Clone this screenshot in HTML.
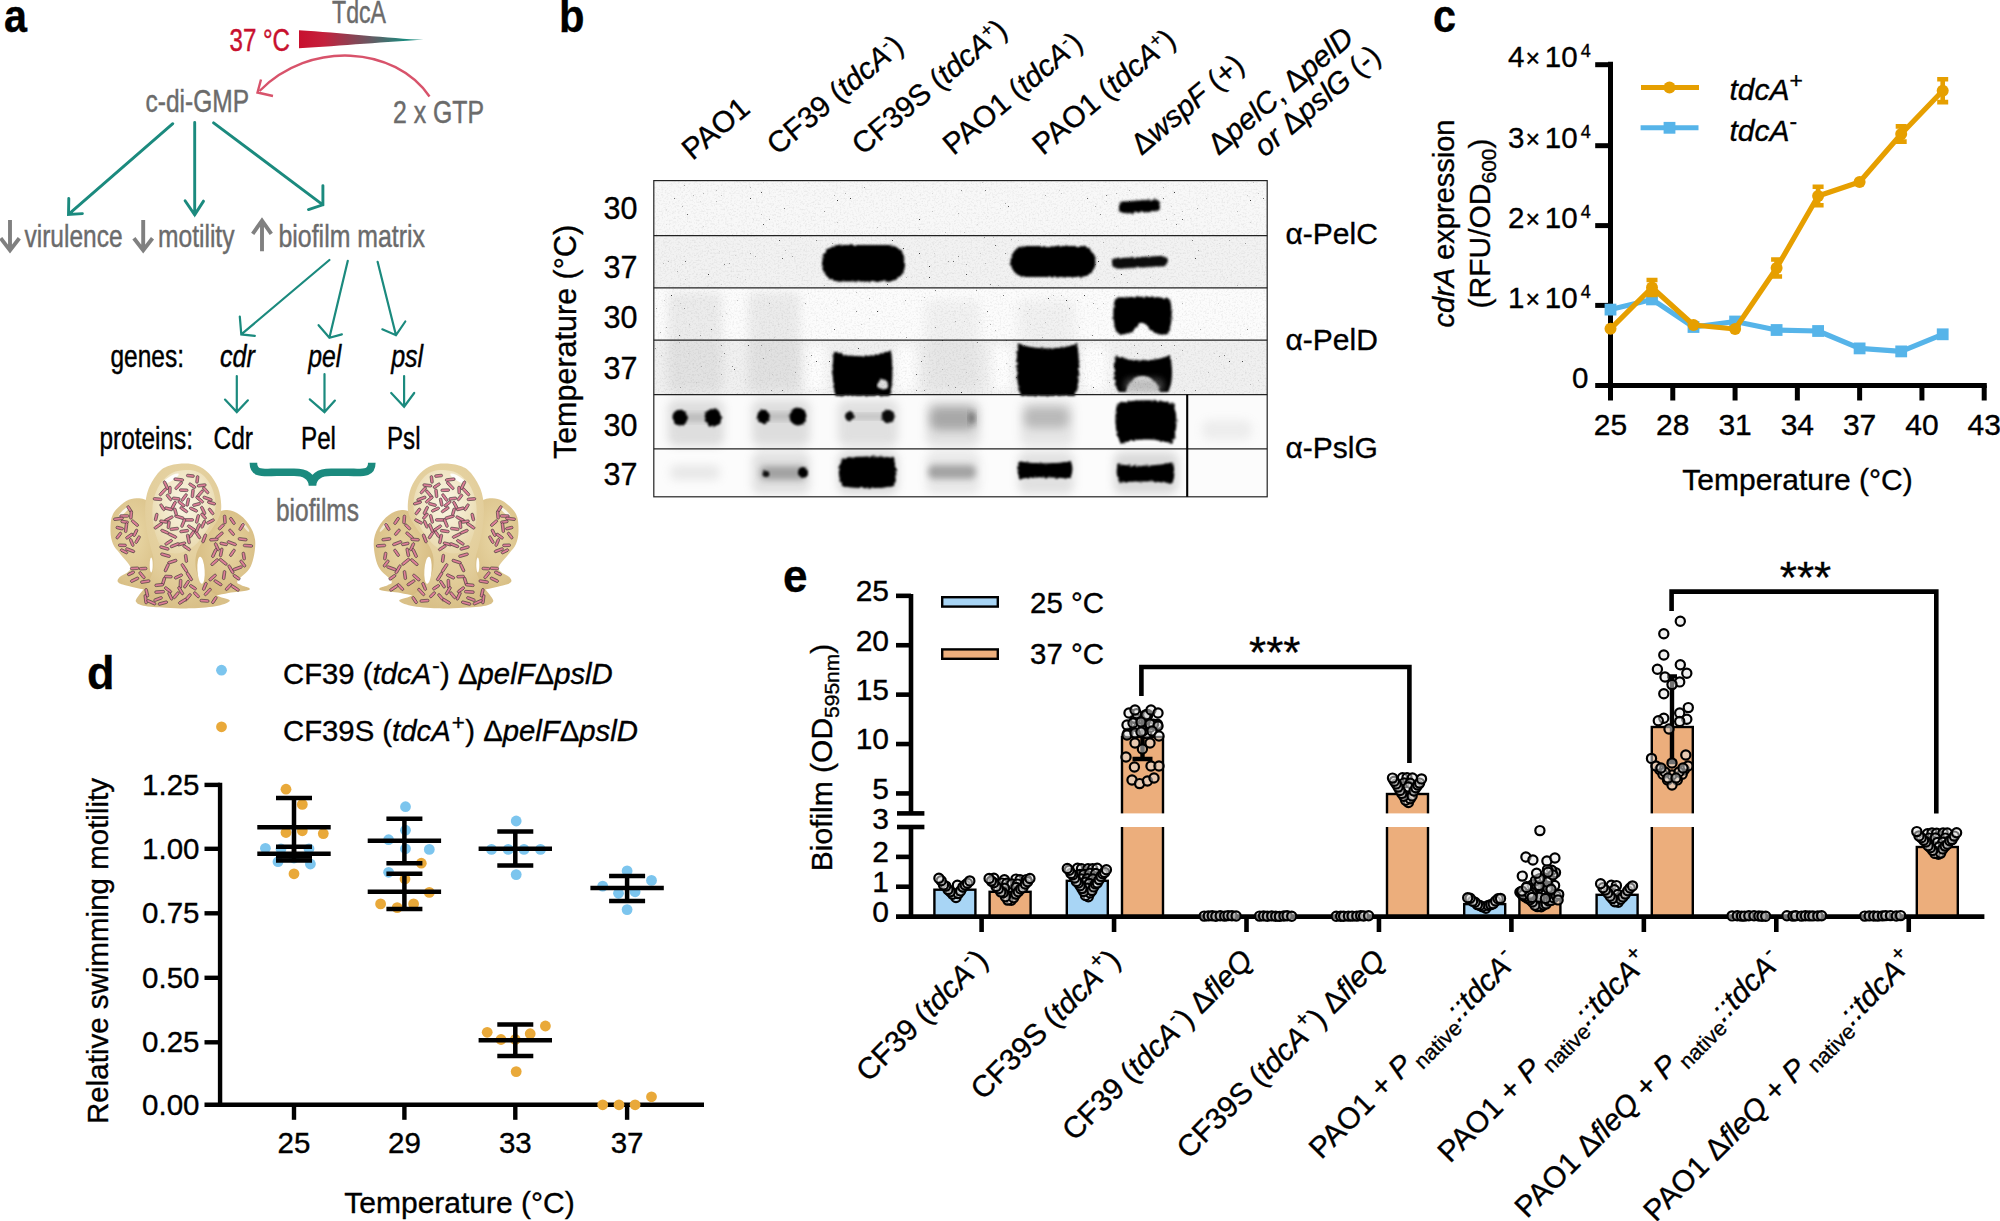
<!DOCTYPE html>
<html lang="en"><head><meta charset="utf-8"><title>Figure</title>
<style>html,body{margin:0;padding:0;background:#fff}svg{display:block}text{font-family:"Liberation Sans", Arial, Helvetica, sans-serif;}</style>
</head><body>
<svg width="2000" height="1221" viewBox="0 0 2000 1221">
<defs>
<linearGradient id="wedge" x1="0" x2="1" y1="0" y2="0"><stop offset="0" stop-color="#c8102e"/><stop offset="0.2" stop-color="#c4203c"/><stop offset="0.55" stop-color="#6d5560"/><stop offset="0.85" stop-color="#1b8a7e"/><stop offset="1" stop-color="#1b8a7e"/></linearGradient>
<radialGradient id="mg1" cx="0.5" cy="0.35" r="0.65"><stop offset="0" stop-color="#ead9ac"/><stop offset="0.7" stop-color="#e2cd9a"/><stop offset="1" stop-color="#d9c088"/></radialGradient>
<radialGradient id="mgi" cx="0.5" cy="0.4" r="0.6"><stop offset="0" stop-color="#fbf6e6"/><stop offset="0.6" stop-color="#f1e6c6"/><stop offset="1" stop-color="#e8d8ac"/></radialGradient>
<radialGradient id="mg2" cx="0.45" cy="0.4" r="0.7"><stop offset="0" stop-color="#e9d7a6"/><stop offset="0.7" stop-color="#dcc48c"/><stop offset="1" stop-color="#d2b679"/></radialGradient>
<radialGradient id="mg3" cx="0.55" cy="0.45" r="0.7"><stop offset="0" stop-color="#e8d5a3"/><stop offset="0.7" stop-color="#d9bf86"/><stop offset="1" stop-color="#cfb274"/></radialGradient>
<filter id="bl1" x="-20%" y="-40%" width="140%" height="180%"><feTurbulence type="fractalNoise" baseFrequency="0.35" numOctaves="2" seed="5" result="t"/><feDisplacementMap in="SourceGraphic" in2="t" scale="3.2" xChannelSelector="R" yChannelSelector="G" result="d"/><feGaussianBlur in="d" stdDeviation="1.1"/></filter>
<filter id="bl2" x="-20%" y="-40%" width="140%" height="180%"><feGaussianBlur stdDeviation="3"/></filter>
<filter id="bl4" x="-30%" y="-60%" width="160%" height="220%"><feGaussianBlur stdDeviation="5"/></filter>
<filter id="speck" x="0" y="0" width="100%" height="100%"><feTurbulence type="fractalNoise" baseFrequency="0.62" numOctaves="1" seed="3" result="n"/><feColorMatrix in="n" type="matrix" values="0 0 0 0 0  0 0 0 0 0  0 0 0 0 0  16 0 0 0 -12.1"/></filter>
<filter id="grain" x="0" y="0" width="100%" height="100%"><feTurbulence type="fractalNoise" baseFrequency="0.55" numOctaves="2" seed="11" result="n"/><feColorMatrix in="n" type="matrix" values="0 0 0 0 0  0 0 0 0 0  0 0 0 0 0  1.6 0 0 0 -0.72"/></filter>
<clipPath id="r0"><rect x="653.8" y="180.6" width="613.4" height="55"/></clipPath>
<clipPath id="blotclip"><rect x="653.8" y="180.6" width="613.4" height="316.2"/></clipPath>
<radialGradient id="dg" cx="0.4" cy="0.4" r="0.7"><stop offset="0" stop-color="#f2f2f2"/><stop offset="1" stop-color="#9a9a9a"/></radialGradient>
</defs>
<rect width="2000" height="1221" fill="#fff"/>
<g id="panelA">
<text x="4.00" y="32.00" font-size="46" font-weight="bold" textLength="23.00" lengthAdjust="spacingAndGlyphs" stroke="#000" stroke-width="0.35">a</text>
<text x="332.00" y="22.50" font-size="31.5" fill="#6b6b6b" textLength="54.00" lengthAdjust="spacingAndGlyphs" stroke="#6b6b6b" stroke-width="0.45">TdcA</text>
<text x="229.50" y="51.00" font-size="30.5" fill="#c8102e" textLength="60.50" lengthAdjust="spacingAndGlyphs" stroke="#c8102e" stroke-width="0.45">37 °C</text>
<path d="M299 30.2 L299 48.2 C340 46 390 41.5 423.5 39.8 C390 38.5 340 32.5 299 30.2Z" fill="url(#wedge)"/>
<path d="M429.5 96.5 C395 46 310 40 259.5 91" fill="none" stroke="#d8536b" stroke-width="2.4"/>
<path d="M261 79.5 L257.5 92.5 L273 96" fill="none" stroke="#d8536b" stroke-width="2.4"/>
<text x="145.50" y="112.00" font-size="31.5" fill="#6b6b6b" textLength="103.50" lengthAdjust="spacingAndGlyphs" stroke="#6b6b6b" stroke-width="0.45">c-di-GMP</text>
<text x="393.00" y="123.00" font-size="31.5" fill="#6b6b6b" textLength="91.00" lengthAdjust="spacingAndGlyphs" stroke="#6b6b6b" stroke-width="0.45">2 x GTP</text>
<path d="M172.8 123.7L68.5 214.4M68.8 198.4L68.5 214.4L82.4 213.6" fill="none" stroke="#1b8a7e" stroke-width="2.9" stroke-linecap="round" stroke-linejoin="miter"/>
<path d="M194.7 122.4L194.7 214.9M185.1 200.8L194.7 214.9L203.5 201.1" fill="none" stroke="#1b8a7e" stroke-width="2.9" stroke-linecap="round" stroke-linejoin="miter"/>
<path d="M213.6 122.9L322.9 204.8M322.9 185.6L322.9 204.8L308.5 209.6" fill="none" stroke="#1b8a7e" stroke-width="2.9" stroke-linecap="round" stroke-linejoin="miter"/>
<path d="M10 220V249.5M0.6999999999999993 238.2L10 250.4L19.3 238.2" fill="none" stroke="#808080" stroke-width="3.9" stroke-linejoin="miter"/>
<text x="24.50" y="246.50" font-size="31.5" fill="#6b6b6b" textLength="98.00" lengthAdjust="spacingAndGlyphs" stroke="#6b6b6b" stroke-width="0.45">virulence</text>
<path d="M143.2 220V249.5M133.89999999999998 238.2L143.2 250.4L152.5 238.2" fill="none" stroke="#808080" stroke-width="3.9" stroke-linejoin="miter"/>
<text x="158.00" y="246.50" font-size="31.5" fill="#6b6b6b" textLength="76.50" lengthAdjust="spacingAndGlyphs" stroke="#6b6b6b" stroke-width="0.45">motility</text>
<path d="M262 251.2V221.5M252.7 233.8L262 220.6L271.3 233.8" fill="none" stroke="#808080" stroke-width="3.9" stroke-linejoin="miter"/>
<text x="278.50" y="246.50" font-size="31.5" fill="#6b6b6b" textLength="146.50" lengthAdjust="spacingAndGlyphs" stroke="#6b6b6b" stroke-width="0.45">biofilm matrix</text>
<path d="M329.4 260.0L241.3 334.4M239.8 316.6L241.3 334.4L254.8 335.9" fill="none" stroke="#1b8a7e" stroke-width="2.2" stroke-linecap="round" stroke-linejoin="miter"/>
<path d="M347.8 260.8L329.4 337.7M318.6 325.2L329.4 337.7L341.9 334.4" fill="none" stroke="#1b8a7e" stroke-width="2.2" stroke-linecap="round" stroke-linejoin="miter"/>
<path d="M377.6 261.8L396.0 335.2M382.3 329.3L396.0 335.2L405.3 321.5" fill="none" stroke="#1b8a7e" stroke-width="2.2" stroke-linecap="round" stroke-linejoin="miter"/>
<text x="110.50" y="367.00" font-size="31.5" textLength="73.50" lengthAdjust="spacingAndGlyphs" stroke="#000" stroke-width="0.45">genes:</text>
<text x="219.90" y="367.00" font-size="31.5" font-style="italic" textLength="34.90" lengthAdjust="spacingAndGlyphs" stroke="#000" stroke-width="0.45">cdr</text>
<text x="308.30" y="367.00" font-size="31.5" font-style="italic" textLength="33.00" lengthAdjust="spacingAndGlyphs" stroke="#000" stroke-width="0.45">pel</text>
<text x="391.20" y="367.00" font-size="31.5" font-style="italic" textLength="32.00" lengthAdjust="spacingAndGlyphs" stroke="#000" stroke-width="0.45">psl</text>
<path d="M236.8 376.0L236.8 412.1M225.0 399.6L236.8 412.1L247.9 400.3" fill="none" stroke="#1b8a7e" stroke-width="2.2" stroke-linecap="round" stroke-linejoin="miter"/>
<path d="M324.5 374.2L324.5 412.1M309.8 399.3L324.5 412.1L334.9 400.6" fill="none" stroke="#1b8a7e" stroke-width="2.2" stroke-linecap="round" stroke-linejoin="miter"/>
<path d="M404.1 376.0L404.1 406.7M391.2 393.0L404.1 406.7L414.2 393.0" fill="none" stroke="#1b8a7e" stroke-width="2.2" stroke-linecap="round" stroke-linejoin="miter"/>
<text x="99.50" y="448.50" font-size="31.5" textLength="93.50" lengthAdjust="spacingAndGlyphs" stroke="#000" stroke-width="0.45">proteins:</text>
<text x="213.50" y="448.50" font-size="31.5" textLength="39.50" lengthAdjust="spacingAndGlyphs" stroke="#000" stroke-width="0.45">Cdr</text>
<text x="301.00" y="448.50" font-size="31.5" textLength="35.00" lengthAdjust="spacingAndGlyphs" stroke="#000" stroke-width="0.45">Pel</text>
<text x="387.00" y="448.50" font-size="31.5" textLength="33.50" lengthAdjust="spacingAndGlyphs" stroke="#000" stroke-width="0.45">Psl</text>
<path d="M253.4 462.8 C253.4 474.5 263 472.3 277 472.3 L294 472.3 C306 472.3 312 477 312.5 485.5 C313 477 319 472.3 331 472.3 L348 472.3 C362 472.3 371.8 474.5 371.8 462.8" fill="none" stroke="#1b8a7e" stroke-width="7.6" stroke-linejoin="miter" stroke-miterlimit="10"/>
<text x="276.00" y="520.50" font-size="31.5" fill="#6b6b6b" textLength="83.00" lengthAdjust="spacingAndGlyphs" stroke="#6b6b6b" stroke-width="0.45">biofilms</text>
<g id="mush">
<path d="M139.3 498.3C135.0 497.8 130.6 498.3 126.2 500.9C121.8 503.5 115.6 509.0 113.0 514.0C110.4 519.0 110.5 526.0 110.5 531.0C110.5 536.0 111.5 540.3 113.0 544.0C114.5 547.7 116.9 549.6 119.7 553.3C122.5 557.0 128.7 563.3 130.1 566.4C131.5 569.5 129.7 570.2 128.0 572.0C126.3 573.8 121.4 575.3 119.7 577.0C118.0 578.7 116.9 580.6 118.0 582.0C119.1 583.4 120.9 584.2 126.2 585.5C131.5 586.8 144.4 590.1 150.0 590.0C155.6 589.9 158.3 596.7 160.0 585.0C161.7 573.3 161.3 533.5 160.0 520.0C158.7 506.5 155.4 507.6 152.0 504.0C148.6 500.4 143.6 498.8 139.3 498.3Z" fill="url(#mg2)"/>
<path d="M225.8 510.0C231.1 509.5 235.8 512.0 240.0 515.0C244.2 518.0 248.4 523.2 251.0 528.0C253.6 532.8 255.4 537.6 255.3 544.0C255.2 550.4 253.6 560.3 250.7 566.4C247.8 572.5 239.2 577.7 237.6 580.8C236.0 583.9 239.0 583.8 241.0 585.0C243.0 586.2 248.4 587.3 249.4 588.2C250.4 589.1 250.1 589.8 247.0 590.5C243.9 591.2 238.0 591.5 231.0 592.6C224.0 593.7 210.8 597.4 205.0 597.0C199.2 596.6 197.5 599.5 196.0 590.0C194.5 580.5 194.0 552.0 196.0 540.0C198.0 528.0 203.0 523.0 208.0 518.0C213.0 513.0 220.5 510.5 225.8 510.0Z" fill="url(#mg3)"/>
<path d="M185.2 463.5C180.7 463.5 174.4 464.1 170.0 465.5C165.6 466.9 162.6 468.1 159.0 472.0C155.4 475.9 150.8 483.1 148.5 489.0C146.2 494.9 145.5 500.8 145.2 507.4C144.9 514.0 145.6 521.8 146.5 528.4C147.4 535.0 149.3 541.5 150.5 546.7C151.7 551.9 153.4 555.4 153.7 559.8C154.0 564.2 153.7 568.6 152.4 573.0C151.1 577.4 148.3 582.1 145.9 586.0C143.5 589.9 139.7 593.9 138.0 596.5C136.3 599.1 135.1 600.3 136.0 601.8C136.9 603.3 138.4 604.7 143.3 605.7C148.2 606.7 157.4 607.3 165.5 607.7C173.6 608.1 182.9 608.6 191.7 608.3C200.4 608.0 211.7 607.0 218.0 605.7C224.3 604.4 229.8 602.1 229.8 600.5C229.8 598.9 222.2 598.3 218.0 595.9C213.8 593.5 208.3 589.8 204.8 586.0C201.3 582.2 198.5 577.8 197.0 573.0C195.5 568.2 195.0 562.0 195.7 557.2C196.3 552.4 198.3 548.6 200.9 544.0C203.5 539.4 208.3 534.3 211.4 529.7C214.5 525.1 217.7 520.8 219.3 516.6C220.9 512.5 221.4 509.6 221.2 504.8C221.0 500.0 220.1 493.1 218.0 487.8C215.9 482.6 212.3 477.0 208.8 473.3C205.3 469.6 200.9 467.1 197.0 465.5C193.1 463.9 189.7 463.5 185.2 463.5Z" fill="url(#mg1)"/>
<path d="M186.0 470.0C182.2 470.3 176.3 470.7 172.0 473.0C167.7 475.3 163.1 479.5 160.0 484.0C156.9 488.5 154.8 494.5 153.5 500.0C152.2 505.5 152.2 511.7 152.5 517.0C152.8 522.3 153.8 527.3 155.0 532.0C156.2 536.7 158.0 541.7 160.0 545.0C162.0 548.3 163.7 550.7 167.0 552.0C170.3 553.3 175.5 554.0 180.0 553.0C184.5 552.0 189.8 549.3 194.0 546.0C198.2 542.7 201.8 537.7 205.0 533.0C208.2 528.3 211.2 523.0 213.0 518.0C214.8 513.0 215.7 508.0 215.5 503.0C215.3 498.0 213.9 492.5 212.0 488.0C210.1 483.5 206.8 478.8 204.0 476.0C201.2 473.2 198.0 472.0 195.0 471.0C192.0 470.0 189.8 469.7 186.0 470.0Z" fill="url(#mgi)"/>
<ellipse cx="201" cy="570.3" rx="3.6" ry="13.5" fill="#fff" transform="rotate(-4 201 570)"/>
<ellipse cx="151.2" cy="565" rx="1.5" ry="7.5" fill="#fff"/>
<ellipse cx="171" cy="478.5" rx="9" ry="2.4" fill="#fff" opacity="0.9" transform="rotate(-31 171 478.5)"/>
<ellipse cx="124" cy="511.5" rx="7" ry="1.6" fill="#fff" opacity="0.8" transform="rotate(-42 124 511.5)"/>
<ellipse cx="245.5" cy="527" rx="6" ry="1.4" fill="#fff" opacity="0.6" transform="rotate(52 245.5 527)"/>
<g fill="#dd7f98" stroke="#3a3032" stroke-width="0.7" stroke-opacity="0.85"><rect x="-4.3" y="-1.3" width="8.7" height="2.6" rx="1.3" transform="translate(181.6 543.9) rotate(166)"/><rect x="-4.4" y="-1.3" width="8.8" height="2.6" rx="1.3" transform="translate(186.7 547.8) rotate(33)"/><rect x="-4.3" y="-1.3" width="8.7" height="2.6" rx="1.3" transform="translate(157.5 499.1) rotate(5)"/><rect x="-4.6" y="-1.3" width="9.1" height="2.6" rx="1.3" transform="translate(180.5 583.8) rotate(93)"/><rect x="-4.1" y="-1.3" width="8.2" height="2.6" rx="1.3" transform="translate(186.0 558.4) rotate(82)"/><rect x="-3.8" y="-1.3" width="7.7" height="2.6" rx="1.3" transform="translate(169.0 497.4) rotate(52)"/><rect x="-4.2" y="-1.3" width="8.5" height="2.6" rx="1.3" transform="translate(210.5 521.5) rotate(152)"/><rect x="-4.2" y="-1.3" width="8.3" height="2.6" rx="1.3" transform="translate(211.6 503.0) rotate(16)"/><rect x="-4.7" y="-1.3" width="9.3" height="2.6" rx="1.3" transform="translate(191.5 528.1) rotate(34)"/><rect x="-4.2" y="-1.3" width="8.5" height="2.6" rx="1.3" transform="translate(168.0 589.8) rotate(38)"/><rect x="-3.8" y="-1.3" width="7.7" height="2.6" rx="1.3" transform="translate(211.1 511.4) rotate(53)"/><rect x="-4.4" y="-1.3" width="8.7" height="2.6" rx="1.3" transform="translate(174.2 528.9) rotate(173)"/><rect x="-3.9" y="-1.3" width="7.9" height="2.6" rx="1.3" transform="translate(192.9 587.2) rotate(33)"/><rect x="-4.9" y="-1.3" width="9.9" height="2.6" rx="1.3" transform="translate(163.0 491.8) rotate(133)"/><rect x="-4.5" y="-1.3" width="9.0" height="2.6" rx="1.3" transform="translate(158.1 599.0) rotate(159)"/><rect x="-5.0" y="-1.3" width="9.9" height="2.6" rx="1.3" transform="translate(178.8 479.6) rotate(7)"/><rect x="-4.1" y="-1.3" width="8.2" height="2.6" rx="1.3" transform="translate(163.6 581.1) rotate(107)"/><rect x="-4.0" y="-1.3" width="8.0" height="2.6" rx="1.3" transform="translate(196.5 504.5) rotate(165)"/><rect x="-3.9" y="-1.3" width="7.8" height="2.6" rx="1.3" transform="translate(156.2 517.0) rotate(103)"/><rect x="-4.5" y="-1.3" width="9.1" height="2.6" rx="1.3" transform="translate(204.5 600.8) rotate(4)"/><rect x="-5.0" y="-1.3" width="10.0" height="2.6" rx="1.3" transform="translate(184.4 568.0) rotate(57)"/><rect x="-4.6" y="-1.3" width="9.3" height="2.6" rx="1.3" transform="translate(207.8 591.9) rotate(133)"/><rect x="-4.8" y="-1.3" width="9.7" height="2.6" rx="1.3" transform="translate(172.4 561.6) rotate(162)"/><rect x="-4.5" y="-1.3" width="8.9" height="2.6" rx="1.3" transform="translate(178.4 576.5) rotate(155)"/><rect x="-4.5" y="-1.3" width="9.0" height="2.6" rx="1.3" transform="translate(197.5 518.9) rotate(105)"/><rect x="-4.4" y="-1.3" width="8.7" height="2.6" rx="1.3" transform="translate(184.2 497.5) rotate(126)"/><rect x="-3.8" y="-1.3" width="7.5" height="2.6" rx="1.3" transform="translate(196.5 594.8) rotate(46)"/><rect x="-4.6" y="-1.3" width="9.2" height="2.6" rx="1.3" transform="translate(180.7 590.7) rotate(59)"/><rect x="-4.9" y="-1.3" width="9.8" height="2.6" rx="1.3" transform="translate(158.3 525.8) rotate(145)"/><rect x="-4.4" y="-1.3" width="8.7" height="2.6" rx="1.3" transform="translate(193.6 509.6) rotate(25)"/><rect x="-4.3" y="-1.3" width="8.5" height="2.6" rx="1.3" transform="translate(181.5 503.8) rotate(39)"/><rect x="-4.8" y="-1.3" width="9.6" height="2.6" rx="1.3" transform="translate(197.6 534.6) rotate(57)"/><rect x="-3.9" y="-1.3" width="7.8" height="2.6" rx="1.3" transform="translate(168.4 576.6) rotate(3)"/><rect x="-4.6" y="-1.3" width="9.1" height="2.6" rx="1.3" transform="translate(197.9 528.0) rotate(113)"/><rect x="-4.0" y="-1.3" width="8.0" height="2.6" rx="1.3" transform="translate(214.3 600.1) rotate(123)"/><rect x="-4.3" y="-1.3" width="8.7" height="2.6" rx="1.3" transform="translate(183.7 490.2) rotate(2)"/><rect x="-4.2" y="-1.3" width="8.4" height="2.6" rx="1.3" transform="translate(205.7 490.3) rotate(49)"/><rect x="-4.7" y="-1.3" width="9.4" height="2.6" rx="1.3" transform="translate(204.2 538.4) rotate(111)"/><rect x="-4.7" y="-1.3" width="9.5" height="2.6" rx="1.3" transform="translate(174.7 545.2) rotate(158)"/><rect x="-4.8" y="-1.3" width="9.5" height="2.6" rx="1.3" transform="translate(199.9 493.9) rotate(130)"/><rect x="-5.0" y="-1.3" width="9.9" height="2.6" rx="1.3" transform="translate(159.6 591.9) rotate(176)"/><rect x="-4.9" y="-1.3" width="9.8" height="2.6" rx="1.3" transform="translate(189.4 576.5) rotate(58)"/><rect x="-4.4" y="-1.3" width="8.8" height="2.6" rx="1.3" transform="translate(166.7 567.8) rotate(115)"/><rect x="-4.9" y="-1.3" width="9.8" height="2.6" rx="1.3" transform="translate(168.7 518.8) rotate(152)"/><rect x="-4.4" y="-1.3" width="8.8" height="2.6" rx="1.3" transform="translate(159.2 585.0) rotate(174)"/><rect x="-4.4" y="-1.3" width="8.8" height="2.6" rx="1.3" transform="translate(192.7 493.3) rotate(96)"/><rect x="-3.8" y="-1.3" width="7.7" height="2.6" rx="1.3" transform="translate(191.8 534.2) rotate(124)"/><rect x="-4.3" y="-1.3" width="8.6" height="2.6" rx="1.3" transform="translate(164.8 531.7) rotate(23)"/><rect x="-4.5" y="-1.3" width="9.0" height="2.6" rx="1.3" transform="translate(183.8 509.7) rotate(34)"/><rect x="-4.5" y="-1.3" width="9.0" height="2.6" rx="1.3" transform="translate(203.2 510.4) rotate(64)"/><rect x="-4.0" y="-1.3" width="8.0" height="2.6" rx="1.3" transform="translate(192.3 485.7) rotate(33)"/><rect x="-4.7" y="-1.3" width="9.4" height="2.6" rx="1.3" transform="translate(145.7 599.2) rotate(83)"/><rect x="-4.3" y="-1.3" width="8.5" height="2.6" rx="1.3" transform="translate(204.8 586.4) rotate(113)"/><rect x="-4.6" y="-1.3" width="9.1" height="2.6" rx="1.3" transform="translate(189.0 519.9) rotate(180)"/><rect x="-4.0" y="-1.3" width="8.0" height="2.6" rx="1.3" transform="translate(163.6 521.6) rotate(9)"/><rect x="-4.5" y="-1.3" width="8.9" height="2.6" rx="1.3" transform="translate(173.6 505.3) rotate(118)"/><rect x="-4.3" y="-1.3" width="8.7" height="2.6" rx="1.3" transform="translate(146.8 592.7) rotate(77)"/><rect x="-4.3" y="-1.3" width="8.7" height="2.6" rx="1.3" transform="translate(188.1 597.2) rotate(130)"/><rect x="-4.9" y="-1.3" width="9.7" height="2.6" rx="1.3" transform="translate(207.6 498.6) rotate(20)"/><rect x="-4.8" y="-1.3" width="9.7" height="2.6" rx="1.3" transform="translate(162.9 603.1) rotate(165)"/><rect x="-3.8" y="-1.3" width="7.7" height="2.6" rx="1.3" transform="translate(197.3 479.4) rotate(97)"/><rect x="-4.8" y="-1.3" width="9.7" height="2.6" rx="1.3" transform="translate(179.3 517.1) rotate(17)"/><rect x="-4.7" y="-1.3" width="9.3" height="2.6" rx="1.3" transform="translate(166.0 485.2) rotate(64)"/><rect x="-4.7" y="-1.3" width="9.4" height="2.6" rx="1.3" transform="translate(199.7 499.6) rotate(40)"/><rect x="-5.0" y="-1.3" width="10.0" height="2.6" rx="1.3" transform="translate(178.7 485.6) rotate(133)"/><rect x="-4.3" y="-1.3" width="8.7" height="2.6" rx="1.3" transform="translate(168.7 542.3) rotate(147)"/><rect x="-4.5" y="-1.3" width="9.0" height="2.6" rx="1.3" transform="translate(184.2 531.1) rotate(172)"/><rect x="-4.1" y="-1.3" width="8.3" height="2.6" rx="1.3" transform="translate(168.6 508.8) rotate(14)"/><rect x="-4.6" y="-1.3" width="9.1" height="2.6" rx="1.3" transform="translate(182.5 601.3) rotate(149)"/><rect x="-3.8" y="-1.3" width="7.5" height="2.6" rx="1.3" transform="translate(175.5 511.7) rotate(74)"/><rect x="-4.6" y="-1.3" width="9.3" height="2.6" rx="1.3" transform="translate(172.4 535.6) rotate(26)"/><rect x="-4.3" y="-1.3" width="8.7" height="2.6" rx="1.3" transform="translate(170.3 596.0) rotate(65)"/><rect x="-4.9" y="-1.3" width="9.8" height="2.6" rx="1.3" transform="translate(151.4 602.3) rotate(24)"/><rect x="-4.0" y="-1.3" width="8.0" height="2.6" rx="1.3" transform="translate(190.4 475.8) rotate(6)"/><rect x="-4.2" y="-1.3" width="8.3" height="2.6" rx="1.3" transform="translate(187.8 502.2) rotate(102)"/><rect x="-4.5" y="-1.3" width="9.0" height="2.6" rx="1.3" transform="translate(201.7 485.4) rotate(173)"/><rect x="-4.6" y="-1.3" width="9.2" height="2.6" rx="1.3" transform="translate(183.2 523.0) rotate(112)"/><rect x="-4.9" y="-1.3" width="9.8" height="2.6" rx="1.3" transform="translate(188.4 539.0) rotate(78)"/><rect x="-3.8" y="-1.3" width="7.7" height="2.6" rx="1.3" transform="translate(162.4 507.2) rotate(58)"/><rect x="-5.0" y="-1.3" width="10.0" height="2.6" rx="1.3" transform="translate(165.5 555.2) rotate(16)"/><rect x="-4.4" y="-1.3" width="8.8" height="2.6" rx="1.3" transform="translate(186.5 584.2) rotate(123)"/><rect x="-4.8" y="-1.3" width="9.6" height="2.6" rx="1.3" transform="translate(164.4 548.0) rotate(16)"/><rect x="-3.8" y="-1.3" width="7.5" height="2.6" rx="1.3" transform="translate(203.6 516.2) rotate(49)"/><rect x="-4.1" y="-1.3" width="8.2" height="2.6" rx="1.3" transform="translate(176.2 595.2) rotate(129)"/><rect x="-3.9" y="-1.3" width="7.9" height="2.6" rx="1.3" transform="translate(176.2 498.6) rotate(7)"/><rect x="-3.9" y="-1.3" width="7.8" height="2.6" rx="1.3" transform="translate(168.7 524.8) rotate(98)"/><rect x="-3.9" y="-1.3" width="7.8" height="2.6" rx="1.3" transform="translate(169.9 490.1) rotate(92)"/><rect x="-4.2" y="-1.3" width="8.5" height="2.6" rx="1.3" transform="translate(203.3 524.1) rotate(114)"/><rect x="-4.1" y="-1.3" width="8.3" height="2.6" rx="1.3" transform="translate(131.7 542.4) rotate(67)"/><rect x="-4.2" y="-1.3" width="8.5" height="2.6" rx="1.3" transform="translate(142.0 575.2) rotate(51)"/><rect x="-4.2" y="-1.3" width="8.5" height="2.6" rx="1.3" transform="translate(134.7 568.4) rotate(177)"/><rect x="-3.8" y="-1.3" width="7.5" height="2.6" rx="1.3" transform="translate(129.5 509.1) rotate(58)"/><rect x="-4.4" y="-1.3" width="8.7" height="2.6" rx="1.3" transform="translate(135.0 523.2) rotate(41)"/><rect x="-3.8" y="-1.3" width="7.7" height="2.6" rx="1.3" transform="translate(124.6 521.9) rotate(9)"/><rect x="-4.2" y="-1.3" width="8.5" height="2.6" rx="1.3" transform="translate(129.4 536.1) rotate(145)"/><rect x="-4.0" y="-1.3" width="8.0" height="2.6" rx="1.3" transform="translate(122.4 545.3) rotate(2)"/><rect x="-3.9" y="-1.3" width="7.8" height="2.6" rx="1.3" transform="translate(143.1 568.6) rotate(177)"/><rect x="-4.9" y="-1.3" width="9.9" height="2.6" rx="1.3" transform="translate(126.1 527.6) rotate(97)"/><rect x="-4.0" y="-1.3" width="7.9" height="2.6" rx="1.3" transform="translate(118.8 535.6) rotate(127)"/><rect x="-4.0" y="-1.3" width="8.0" height="2.6" rx="1.3" transform="translate(135.4 532.8) rotate(116)"/><rect x="-4.5" y="-1.3" width="9.1" height="2.6" rx="1.3" transform="translate(134.7 579.7) rotate(154)"/><rect x="-4.8" y="-1.3" width="9.6" height="2.6" rx="1.3" transform="translate(130.2 550.2) rotate(21)"/><rect x="-4.3" y="-1.3" width="8.5" height="2.6" rx="1.3" transform="translate(137.6 539.7) rotate(120)"/><rect x="-4.6" y="-1.3" width="9.2" height="2.6" rx="1.3" transform="translate(124.3 516.0) rotate(179)"/><rect x="-4.2" y="-1.3" width="8.4" height="2.6" rx="1.3" transform="translate(131.1 515.0) rotate(95)"/><rect x="-3.8" y="-1.3" width="7.6" height="2.6" rx="1.3" transform="translate(119.7 528.1) rotate(13)"/><rect x="-3.8" y="-1.3" width="7.6" height="2.6" rx="1.3" transform="translate(131.0 573.4) rotate(154)"/><rect x="-4.9" y="-1.3" width="9.9" height="2.6" rx="1.3" transform="translate(118.5 518.8) rotate(173)"/><rect x="-4.1" y="-1.3" width="8.1" height="2.6" rx="1.3" transform="translate(124.1 551.4) rotate(27)"/><rect x="-4.8" y="-1.3" width="9.6" height="2.6" rx="1.3" transform="translate(145.3 581.6) rotate(171)"/><rect x="-4.6" y="-1.3" width="9.1" height="2.6" rx="1.3" transform="translate(242.7 539.3) rotate(7)"/><rect x="-4.6" y="-1.3" width="9.2" height="2.6" rx="1.3" transform="translate(218.0 582.8) rotate(33)"/><rect x="-4.7" y="-1.3" width="9.4" height="2.6" rx="1.3" transform="translate(219.4 535.4) rotate(139)"/><rect x="-3.8" y="-1.3" width="7.5" height="2.6" rx="1.3" transform="translate(221.3 526.9) rotate(135)"/><rect x="-4.1" y="-1.3" width="8.2" height="2.6" rx="1.3" transform="translate(232.4 520.9) rotate(56)"/><rect x="-4.3" y="-1.3" width="8.6" height="2.6" rx="1.3" transform="translate(228.6 587.0) rotate(133)"/><rect x="-4.7" y="-1.3" width="9.3" height="2.6" rx="1.3" transform="translate(214.6 562.2) rotate(139)"/><rect x="-4.9" y="-1.3" width="9.9" height="2.6" rx="1.3" transform="translate(230.9 569.3) rotate(60)"/><rect x="-4.4" y="-1.3" width="8.9" height="2.6" rx="1.3" transform="translate(221.2 552.3) rotate(101)"/><rect x="-4.9" y="-1.3" width="9.8" height="2.6" rx="1.3" transform="translate(231.8 543.2) rotate(21)"/><rect x="-3.9" y="-1.3" width="7.8" height="2.6" rx="1.3" transform="translate(223.7 543.9) rotate(12)"/><rect x="-4.4" y="-1.3" width="8.7" height="2.6" rx="1.3" transform="translate(216.9 546.8) rotate(65)"/><rect x="-4.2" y="-1.3" width="8.4" height="2.6" rx="1.3" transform="translate(232.4 552.8) rotate(124)"/><rect x="-5.0" y="-1.3" width="9.9" height="2.6" rx="1.3" transform="translate(237.5 568.3) rotate(160)"/><rect x="-4.7" y="-1.3" width="9.4" height="2.6" rx="1.3" transform="translate(248.0 545.7) rotate(4)"/><rect x="-4.0" y="-1.3" width="7.9" height="2.6" rx="1.3" transform="translate(241.6 527.0) rotate(121)"/><rect x="-4.3" y="-1.3" width="8.6" height="2.6" rx="1.3" transform="translate(213.9 539.6) rotate(176)"/><rect x="-4.1" y="-1.3" width="8.3" height="2.6" rx="1.3" transform="translate(242.8 563.5) rotate(53)"/><rect x="-4.8" y="-1.3" width="9.6" height="2.6" rx="1.3" transform="translate(223.2 561.8) rotate(39)"/><rect x="-4.0" y="-1.3" width="7.9" height="2.6" rx="1.3" transform="translate(243.8 556.1) rotate(81)"/><rect x="-4.8" y="-1.3" width="9.6" height="2.6" rx="1.3" transform="translate(214.3 553.1) rotate(115)"/><rect x="-3.8" y="-1.3" width="7.7" height="2.6" rx="1.3" transform="translate(231.6 532.2) rotate(50)"/><rect x="-4.5" y="-1.3" width="9.1" height="2.6" rx="1.3" transform="translate(224.1 575.0) rotate(98)"/><rect x="-4.6" y="-1.3" width="9.1" height="2.6" rx="1.3" transform="translate(212.6 577.6) rotate(139)"/><rect x="-4.7" y="-1.3" width="9.5" height="2.6" rx="1.3" transform="translate(235.1 588.0) rotate(34)"/><rect x="-4.4" y="-1.3" width="8.8" height="2.6" rx="1.3" transform="translate(224.8 519.5) rotate(86)"/><rect x="-4.0" y="-1.3" width="8.0" height="2.6" rx="1.3" transform="translate(236.6 577.3) rotate(35)"/></g>
</g>
<use href="#mush" transform="translate(629 0) scale(-1 1)"/>
</g>
<g id="panelB">
<text x="559.00" y="32.00" font-size="46" font-weight="bold" textLength="25.50" lengthAdjust="spacingAndGlyphs" stroke="#000" stroke-width="0.35">b</text>
<text transform="translate(692.50 161.00) rotate(-40)" x="0" y="0" font-size="29.8" stroke="#000" stroke-width="0.35">PAO1</text>
<text transform="translate(777.50 156.00) rotate(-40)" x="0" y="0" font-size="29.8" stroke="#000" stroke-width="0.35">CF39 (<tspan font-style="italic">tdcA</tspan><tspan font-size="18.5" dy="-10.7" dx="0">-</tspan><tspan dy="10.7" dx="0" font-size="0.30">&#8203;</tspan>)</text>
<text transform="translate(862.50 156.00) rotate(-40)" x="0" y="0" font-size="29.8" stroke="#000" stroke-width="0.35">CF39S (<tspan font-style="italic">tdcA</tspan><tspan font-size="18.5" dy="-10.7" dx="0">+</tspan><tspan dy="10.7" dx="0" font-size="0.30">&#8203;</tspan>)</text>
<text transform="translate(953.50 156.00) rotate(-40)" x="0" y="0" font-size="29.8" stroke="#000" stroke-width="0.35">PAO1 (<tspan font-style="italic">tdcA</tspan><tspan font-size="18.5" dy="-10.7" dx="0">-</tspan><tspan dy="10.7" dx="0" font-size="0.30">&#8203;</tspan>)</text>
<text transform="translate(1043.00 156.00) rotate(-40)" x="0" y="0" font-size="29.8" stroke="#000" stroke-width="0.35">PAO1 (<tspan font-style="italic">tdcA</tspan><tspan font-size="18.5" dy="-10.7" dx="0">+</tspan><tspan dy="10.7" dx="0" font-size="0.30">&#8203;</tspan>)</text>
<text transform="translate(1141.50 156.00) rotate(-40)" x="0" y="0" font-size="29.8" stroke="#000" stroke-width="0.35">Δ<tspan font-style="italic">wspF</tspan> (+)</text>
<text transform="translate(1218.50 156.00) rotate(-40)" x="0" y="0" font-size="29.8" stroke="#000" stroke-width="0.35">Δ<tspan font-style="italic">pelC</tspan>, Δ<tspan font-style="italic">pelD</tspan></text>
<text transform="translate(1264.50 158.00) rotate(-40)" x="0" y="0" font-size="29.8" stroke="#000" stroke-width="0.35"><tspan font-style="italic">or </tspan>Δ<tspan font-style="italic">pslG</tspan> (-)</text>
<text x="603.50" y="218.70" font-size="30.5" stroke="#000" stroke-width="0.35">30</text>
<text x="603.50" y="278.00" font-size="30.5" stroke="#000" stroke-width="0.35">37</text>
<text x="603.50" y="327.80" font-size="30.5" stroke="#000" stroke-width="0.35">30</text>
<text x="603.50" y="379.00" font-size="30.5" stroke="#000" stroke-width="0.35">37</text>
<text x="603.50" y="435.60" font-size="30.5" stroke="#000" stroke-width="0.35">30</text>
<text x="603.50" y="485.00" font-size="30.5" stroke="#000" stroke-width="0.35">37</text>
<text transform="translate(576.00 342.00) rotate(-90)" x="0" y="0" font-size="30.5" text-anchor="middle" stroke="#000" stroke-width="0.35">Temperature (°C)</text>
<text x="1285.50" y="244.00" font-size="30" stroke="#000" stroke-width="0.35">α-PelC</text>
<text x="1285.50" y="349.80" font-size="30" stroke="#000" stroke-width="0.35">α-PelD</text>
<text x="1285.50" y="457.60" font-size="30" stroke="#000" stroke-width="0.35">α-PslG</text>
<g clip-path="url(#blotclip)">
<rect x="653.8" y="180.6" width="613.4000000000001" height="55.0" fill="#f8f8f8"/>
<rect x="653.8" y="235.6" width="613.4000000000001" height="52.20000000000002" fill="#f2f2f2"/>
<rect x="653.8" y="287.8" width="613.4000000000001" height="52.39999999999998" fill="#fcfcfc"/>
<rect x="653.8" y="340.2" width="613.4000000000001" height="54.400000000000034" fill="#f0f0f0"/>
<rect x="653.8" y="394.6" width="613.4000000000001" height="54.19999999999999" fill="#fbfbfb"/>
<rect x="653.8" y="448.8" width="613.4000000000001" height="48.0" fill="#fcfcfc"/>
<rect x="668.0" y="292.0" width="54.0" height="100.0" rx="6.0" fill="#999" opacity="0.16" filter="url(#bl4)"/>
<rect x="748.0" y="292.0" width="52.0" height="100.0" rx="6.0" fill="#999" opacity="0.16" filter="url(#bl4)"/>
<rect x="925.0" y="300.0" width="55.0" height="92.0" rx="6.0" fill="#999" opacity="0.1" filter="url(#bl4)"/>
<rect x="1018.0" y="300.0" width="57.0" height="92.0" rx="6.0" fill="#999" opacity="0.1" filter="url(#bl4)"/>
<rect x="806.0" y="345.0" width="20.0" height="47.0" rx="6.0" fill="#fff" opacity="0.9" filter="url(#bl4)"/>
<rect x="896.0" y="345.0" width="20.0" height="47.0" rx="6.0" fill="#fff" opacity="0.9" filter="url(#bl4)"/>
<rect x="992.0" y="345.0" width="20.0" height="47.0" rx="6.0" fill="#fff" opacity="0.9" filter="url(#bl4)"/>
<rect x="1082.0" y="345.0" width="26.0" height="47.0" rx="6.0" fill="#fff" opacity="0.9" filter="url(#bl4)"/>
<g clip-path="url(#r0)"><g transform="rotate(-4 1139 207)"><rect x="1119.0" y="200.5" width="41.0" height="12.0" rx="5.0" fill="#000" opacity="1" filter="url(#bl1)"/>
</g></g>
<rect x="822.0" y="245.0" width="83.0" height="36.5" rx="17.0" fill="#000" opacity="1" filter="url(#bl1)"/>
<rect x="1010.5" y="246.0" width="85.0" height="31.0" rx="15.0" fill="#000" opacity="1" filter="url(#bl1)"/>
<g transform="rotate(-3 1140 262)"><rect x="1112.0" y="257.0" width="56.0" height="10.5" rx="5.0" fill="#000" opacity="0.95" filter="url(#bl1)"/>
</g><path d="M1115 299 C1125 296 1160 296 1170 299 C1173 312 1172 325 1168 334 C1160 336 1152 333 1147 325 C1143 322 1140 322 1137 326 C1133 334 1124 336 1117 333 C1113 324 1112 311 1115 299Z" fill="#000" filter="url(#bl1)"/>
<path d="M834 351 C845 358 880 358 891 350 C893 365 893 385 890 396 L836 396 C832 385 832 365 834 351Z" fill="#000" filter="url(#bl1)"/>
<circle cx="883" cy="384.5" r="5" fill="#ddd" filter="url(#bl1)"/>
<path d="M1018 343 C1030 350 1066 350 1077 343 C1080 360 1080 384 1075 396 L1021 396 C1016 384 1016 360 1018 343Z" fill="#000" filter="url(#bl1)"/>
<path d="M1116 356 C1128 362 1158 362 1170 355 C1173 368 1173 384 1168 392 L1160 392 C1158 382 1150 376 1143 376 C1135 376 1128 382 1126 392 L1119 392 C1113 384 1113 368 1116 356Z" fill="#000" filter="url(#bl1)"/>
<rect x="1124.0" y="378.0" width="40.0" height="15.0" rx="6.0" fill="#888" opacity="0.45" filter="url(#bl2)"/>
<rect x="668.0" y="400.0" width="56.0" height="46.0" rx="8.0" fill="#777" opacity="0.22" filter="url(#bl4)"/>
<rect x="752.0" y="400.0" width="58.0" height="46.0" rx="8.0" fill="#777" opacity="0.22" filter="url(#bl4)"/>
<rect x="838.0" y="400.0" width="60.0" height="46.0" rx="8.0" fill="#777" opacity="0.2" filter="url(#bl4)"/>
<rect x="926.0" y="400.0" width="54.0" height="46.0" rx="8.0" fill="#777" opacity="0.2" filter="url(#bl4)"/>
<rect x="1020.0" y="400.0" width="54.0" height="46.0" rx="8.0" fill="#777" opacity="0.16" filter="url(#bl4)"/>
<rect x="680.0" y="413.4" width="33.0" height="8.2" rx="3.0" fill="#444" opacity="0.25" filter="url(#bl2)"/>
<ellipse cx="680.0" cy="417.5" rx="7.5" ry="7.9" fill="#000" opacity="1" filter="url(#bl1)"/>
<ellipse cx="713.0" cy="417.5" rx="8.5" ry="8.9" fill="#000" opacity="1" filter="url(#bl1)"/>
<rect x="763.5" y="412.9" width="34.5" height="7.1" rx="3.0" fill="#444" opacity="0.25" filter="url(#bl2)"/>
<ellipse cx="763.5" cy="416.5" rx="6.5" ry="6.8" fill="#000" opacity="1" filter="url(#bl1)"/>
<ellipse cx="798.0" cy="416.5" rx="8.5" ry="8.9" fill="#000" opacity="1" filter="url(#bl1)"/>
<rect x="849.5" y="414.0" width="38.5" height="5.0" rx="3.0" fill="#444" opacity="0.25" filter="url(#bl2)"/>
<ellipse cx="849.5" cy="416.5" rx="4.5" ry="4.7" fill="#000" opacity="0.95" filter="url(#bl1)"/>
<ellipse cx="888.0" cy="416.5" rx="6.5" ry="6.8" fill="#000" opacity="0.95" filter="url(#bl1)"/>
<rect x="930.0" y="407.0" width="46.0" height="23.0" rx="8.0" fill="#555" opacity="0.4" filter="url(#bl4)"/>
<ellipse cx="972.0" cy="418.0" rx="3.0" ry="6.0" fill="#222" opacity="0.6" filter="url(#bl2)"/>
<rect x="1024.0" y="407.0" width="45.0" height="21.0" rx="8.0" fill="#666" opacity="0.34" filter="url(#bl4)"/>
<path d="M1117 404 C1130 399 1162 399 1174 404 C1178 418 1177 434 1172 444 C1160 438 1132 438 1121 444 C1115 434 1114 418 1117 404Z" fill="#000" filter="url(#bl1)"/>
<rect x="1202.0" y="420.0" width="50.0" height="20.0" rx="8.0" fill="#999" opacity="0.14" filter="url(#bl4)"/>
<rect x="752.0" y="452.0" width="58.0" height="42.0" rx="8.0" fill="#777" opacity="0.2" filter="url(#bl4)"/>
<rect x="838.0" y="452.0" width="60.0" height="42.0" rx="8.0" fill="#777" opacity="0.25" filter="url(#bl4)"/>
<rect x="926.0" y="452.0" width="54.0" height="42.0" rx="8.0" fill="#777" opacity="0.15" filter="url(#bl4)"/>
<rect x="1018.0" y="452.0" width="56.0" height="42.0" rx="8.0" fill="#777" opacity="0.2" filter="url(#bl4)"/>
<rect x="1114.0" y="452.0" width="64.0" height="42.0" rx="8.0" fill="#777" opacity="0.25" filter="url(#bl4)"/>
<rect x="670.0" y="465.0" width="50.0" height="15.0" rx="6.0" fill="#999" opacity="0.2" filter="url(#bl4)"/>
<rect x="760.0" y="466.0" width="46.0" height="14.0" rx="5.0" fill="#555" opacity="0.45" filter="url(#bl2)"/>
<ellipse cx="766.0" cy="474.0" rx="3.5" ry="3.0" fill="#000" opacity="0.9" filter="url(#bl1)"/>
<ellipse cx="803.0" cy="472.5" rx="5.0" ry="5.5" fill="#000" opacity="1" filter="url(#bl1)"/>
<path d="M841 459 C855 456 880 456 894 458 C897 468 897 478 894 486 C880 489 856 489 842 486 C838 478 838 468 841 459Z" fill="#000" filter="url(#bl1)"/>
<rect x="928.0" y="465.0" width="48.0" height="14.0" rx="6.0" fill="#444" opacity="0.42" filter="url(#bl2)"/>
<path d="M1019 461 C1030 464 1060 464 1071 461 C1073 467 1073 474 1070 479 C1060 477 1030 477 1020 479 C1017 474 1017 467 1019 461Z" fill="#000" filter="url(#bl1)"/>
<path d="M1118 464 C1130 467 1162 466 1173 462 C1175 470 1175 478 1172 484 C1160 481 1130 481 1120 483 C1116 477 1116 470 1118 464Z" fill="#000" filter="url(#bl1)"/>
<rect x="653.8" y="180.6" width="613.4000000000001" height="214.00000000000003" filter="url(#grain)" opacity="0.10"/>
<rect x="653.8" y="180.6" width="613.4000000000001" height="214.00000000000003" filter="url(#speck)" opacity="0.75"/>
</g>
<line x1="653.80" y1="235.60" x2="1267.20" y2="235.60" stroke="#222" stroke-width="1.2" stroke-linecap="butt" />
<line x1="653.80" y1="287.80" x2="1267.20" y2="287.80" stroke="#222" stroke-width="1.2" stroke-linecap="butt" />
<line x1="653.80" y1="340.20" x2="1267.20" y2="340.20" stroke="#222" stroke-width="1.2" stroke-linecap="butt" />
<line x1="653.80" y1="394.60" x2="1267.20" y2="394.60" stroke="#222" stroke-width="1.2" stroke-linecap="butt" />
<line x1="653.80" y1="448.80" x2="1267.20" y2="448.80" stroke="#222" stroke-width="1.2" stroke-linecap="butt" />
<rect x="653.8" y="180.6" width="613.4000000000001" height="316.20000000000005" fill="none" stroke="#222" stroke-width="1.2"/>
<line x1="1187.20" y1="394.60" x2="1187.20" y2="496.80" stroke="#000" stroke-width="2.1" stroke-linecap="butt" />
</g>
<g id="panelC">
<text x="1433.00" y="32.00" font-size="46" font-weight="bold" textLength="23.00" lengthAdjust="spacingAndGlyphs" stroke="#000" stroke-width="0.35">c</text>
<line x1="1610.50" y1="61.80" x2="1610.50" y2="387.50" stroke="#000" stroke-width="5" stroke-linecap="butt" />
<line x1="1595.20" y1="385.40" x2="1986.80" y2="385.40" stroke="#000" stroke-width="5" stroke-linecap="butt" />
<text x="1588.50" y="388.00" font-size="29.5" text-anchor="end" stroke="#000" stroke-width="0.35">0</text>
<line x1="1595.20" y1="305.40" x2="1610.50" y2="305.40" stroke="#000" stroke-width="5" stroke-linecap="butt" />
<text x="1508.00" y="308.00" font-size="29.5" stroke="#000" stroke-width="0.35">1<tspan font-size="25" dx="1.2" dy="-0.5">×</tspan><tspan dy="0.5" dx="4.6">10</tspan><tspan font-size="18.0" dy="-9.9" dx="3">4</tspan><tspan dy="9.9" dx="0" font-size="0.29">&#8203;</tspan></text>
<line x1="1595.20" y1="225.60" x2="1610.50" y2="225.60" stroke="#000" stroke-width="5" stroke-linecap="butt" />
<text x="1508.00" y="228.20" font-size="29.5" stroke="#000" stroke-width="0.35">2<tspan font-size="25" dx="1.2" dy="-0.5">×</tspan><tspan dy="0.5" dx="4.6">10</tspan><tspan font-size="18.0" dy="-9.9" dx="3">4</tspan><tspan dy="9.9" dx="0" font-size="0.29">&#8203;</tspan></text>
<line x1="1595.20" y1="145.70" x2="1610.50" y2="145.70" stroke="#000" stroke-width="5" stroke-linecap="butt" />
<text x="1508.00" y="148.30" font-size="29.5" stroke="#000" stroke-width="0.35">3<tspan font-size="25" dx="1.2" dy="-0.5">×</tspan><tspan dy="0.5" dx="4.6">10</tspan><tspan font-size="18.0" dy="-9.9" dx="3">4</tspan><tspan dy="9.9" dx="0" font-size="0.29">&#8203;</tspan></text>
<line x1="1595.20" y1="64.70" x2="1610.50" y2="64.70" stroke="#000" stroke-width="5" stroke-linecap="butt" />
<text x="1508.00" y="67.30" font-size="29.5" stroke="#000" stroke-width="0.35">4<tspan font-size="25" dx="1.2" dy="-0.5">×</tspan><tspan dy="0.5" dx="4.6">10</tspan><tspan font-size="18.0" dy="-9.9" dx="3">4</tspan><tspan dy="9.9" dx="0" font-size="0.29">&#8203;</tspan></text>
<line x1="1610.50" y1="385.40" x2="1610.50" y2="400.50" stroke="#000" stroke-width="5" stroke-linecap="butt" />
<text x="1610.50" y="434.50" font-size="30" text-anchor="middle" stroke="#000" stroke-width="0.35">25</text>
<line x1="1672.78" y1="385.40" x2="1672.78" y2="400.50" stroke="#000" stroke-width="5" stroke-linecap="butt" />
<text x="1672.78" y="434.50" font-size="30" text-anchor="middle" stroke="#000" stroke-width="0.35">28</text>
<line x1="1735.07" y1="385.40" x2="1735.07" y2="400.50" stroke="#000" stroke-width="5" stroke-linecap="butt" />
<text x="1735.07" y="434.50" font-size="30" text-anchor="middle" stroke="#000" stroke-width="0.35">31</text>
<line x1="1797.35" y1="385.40" x2="1797.35" y2="400.50" stroke="#000" stroke-width="5" stroke-linecap="butt" />
<text x="1797.35" y="434.50" font-size="30" text-anchor="middle" stroke="#000" stroke-width="0.35">34</text>
<line x1="1859.63" y1="385.40" x2="1859.63" y2="400.50" stroke="#000" stroke-width="5" stroke-linecap="butt" />
<text x="1859.63" y="434.50" font-size="30" text-anchor="middle" stroke="#000" stroke-width="0.35">37</text>
<line x1="1921.92" y1="385.40" x2="1921.92" y2="400.50" stroke="#000" stroke-width="5" stroke-linecap="butt" />
<text x="1921.92" y="434.50" font-size="30" text-anchor="middle" stroke="#000" stroke-width="0.35">40</text>
<line x1="1984.20" y1="385.40" x2="1984.20" y2="400.50" stroke="#000" stroke-width="5" stroke-linecap="butt" />
<text x="1984.20" y="434.50" font-size="30" text-anchor="middle" stroke="#000" stroke-width="0.35">43</text>
<text x="1797.50" y="490.00" font-size="30" text-anchor="middle" stroke="#000" stroke-width="0.35">Temperature (°C)</text>
<text transform="translate(1454.40 223.50) rotate(-90)" x="0" y="0" font-size="29" text-anchor="middle" stroke="#000" stroke-width="0.35"><tspan font-style="italic">cdrA</tspan> expression</text>
<text transform="translate(1489.60 223.50) rotate(-90)" x="0" y="0" font-size="30" text-anchor="middle" stroke="#000" stroke-width="0.35">(RFU/OD<tspan font-size="21.0" dy="6.6" dx="0">600</tspan><tspan dy="-6.6" dx="0" font-size="0.30">&#8203;</tspan>)</text>
<polyline points="1610.5,309.6 1652.0,299.4 1693.5,327.0 1735.1,321.5 1776.6,330.0 1818.1,331.0 1859.6,348.4 1901.2,351.4 1942.7,334.3" fill="none" stroke="#56b4e9" stroke-width="5.2" stroke-linejoin="round"/>
<rect x="1604.6" y="303.7" width="11.8" height="11.8" fill="#56b4e9"/>
<rect x="1646.1" y="293.5" width="11.8" height="11.8" fill="#56b4e9"/>
<rect x="1687.6" y="321.1" width="11.8" height="11.8" fill="#56b4e9"/>
<rect x="1729.2" y="315.6" width="11.8" height="11.8" fill="#56b4e9"/>
<rect x="1770.7" y="324.1" width="11.8" height="11.8" fill="#56b4e9"/>
<rect x="1812.2" y="325.1" width="11.8" height="11.8" fill="#56b4e9"/>
<rect x="1853.7" y="342.5" width="11.8" height="11.8" fill="#56b4e9"/>
<rect x="1895.3" y="345.5" width="11.8" height="11.8" fill="#56b4e9"/>
<rect x="1936.8" y="328.4" width="11.8" height="11.8" fill="#56b4e9"/>
<polyline points="1610.5,328.8 1652.0,287.5 1693.5,325.0 1735.1,329.0 1776.6,268.0 1818.1,196.0 1859.6,182.0 1901.2,134.0 1942.7,90.7" fill="none" stroke="#e69f00" stroke-width="5.2" stroke-linejoin="round"/>
<circle cx="1610.5" cy="328.8" r="6" fill="#e69f00"/>
<path d="M1652.0 280.0V295.0M1646.5 280.0h11M1646.5 295.0h11" stroke="#e69f00" stroke-width="4.6" fill="none"/>
<circle cx="1652.0" cy="287.5" r="6" fill="#e69f00"/>
<circle cx="1693.5" cy="325.0" r="6" fill="#e69f00"/>
<circle cx="1735.1" cy="329.0" r="6" fill="#e69f00"/>
<path d="M1776.6 259.5V276.5M1771.1 259.5h11M1771.1 276.5h11" stroke="#e69f00" stroke-width="4.6" fill="none"/>
<circle cx="1776.6" cy="268.0" r="6" fill="#e69f00"/>
<path d="M1818.1 186.8V205.2M1812.6 186.8h11M1812.6 205.2h11" stroke="#e69f00" stroke-width="4.6" fill="none"/>
<circle cx="1818.1" cy="196.0" r="6" fill="#e69f00"/>
<circle cx="1859.6" cy="182.0" r="6" fill="#e69f00"/>
<path d="M1901.2 126.4V141.6M1895.7 126.4h11M1895.7 141.6h11" stroke="#e69f00" stroke-width="4.6" fill="none"/>
<circle cx="1901.2" cy="134.0" r="6" fill="#e69f00"/>
<path d="M1942.7 79.3V102.1M1937.2 79.3h11M1937.2 102.1h11" stroke="#e69f00" stroke-width="4.6" fill="none"/>
<circle cx="1942.7" cy="90.7" r="6" fill="#e69f00"/>
<line x1="1641.00" y1="87.40" x2="1699.00" y2="87.40" stroke="#e69f00" stroke-width="5" stroke-linecap="butt" />
<circle cx="1669.5" cy="87.4" r="6" fill="#e69f00"/>
<line x1="1640.60" y1="127.80" x2="1698.50" y2="127.80" stroke="#56b4e9" stroke-width="5" stroke-linecap="butt" />
<rect x="1663.6" y="121.9" width="11.8" height="11.8" fill="#56b4e9"/>
<text x="1729.50" y="100.00" font-size="30" stroke="#000" stroke-width="0.35"><tspan font-style="italic">tdcA</tspan><tspan font-size="22.8" dy="-12.0" dx="0">+</tspan><tspan dy="12.0" dx="0" font-size="0.30">&#8203;</tspan></text>
<text x="1729.50" y="140.50" font-size="30" stroke="#000" stroke-width="0.35"><tspan font-style="italic">tdcA</tspan><tspan font-size="22.8" dy="-12.0" dx="0">-</tspan><tspan dy="12.0" dx="0" font-size="0.30">&#8203;</tspan></text>
</g>
<g id="panelD">
<text x="87.00" y="689.00" font-size="46" font-weight="bold" textLength="27.50" lengthAdjust="spacingAndGlyphs" stroke="#000" stroke-width="0.35">d</text>
<circle cx="221.5" cy="670.2" r="5.4" fill="#7cc5ee"/><circle cx="221.5" cy="726.8" r="5.4" fill="#e9a93a"/>
<text x="283.00" y="684.00" font-size="29.3" stroke="#000" stroke-width="0.35">CF39 (<tspan font-style="italic">tdcA</tspan><tspan font-size="22.3" dy="-11.1" dx="1">-</tspan><tspan dy="11.1" dx="0.5" font-size="0.29">&#8203;</tspan>) Δ<tspan font-style="italic">pelF</tspan>Δ<tspan font-style="italic">pslD</tspan></text>
<text x="283.00" y="740.60" font-size="29.3" stroke="#000" stroke-width="0.35">CF39S (<tspan font-style="italic">tdcA</tspan><tspan font-size="22.3" dy="-11.1" dx="1">+</tspan><tspan dy="11.1" dx="0.5" font-size="0.29">&#8203;</tspan>) Δ<tspan font-style="italic">pelF</tspan>Δ<tspan font-style="italic">pslD</tspan></text>
<line x1="220.07" y1="782.80" x2="220.07" y2="1106.80" stroke="#000" stroke-width="4.4" stroke-linecap="butt" />
<line x1="204.50" y1="1104.80" x2="704.00" y2="1104.80" stroke="#000" stroke-width="4.4" stroke-linecap="butt" />
<line x1="204.50" y1="784.90" x2="220.07" y2="784.90" stroke="#000" stroke-width="4.4" stroke-linecap="butt" />
<text x="199.50" y="794.90" font-size="29.5" text-anchor="end" stroke="#000" stroke-width="0.35">1.25</text>
<line x1="204.50" y1="848.80" x2="220.07" y2="848.80" stroke="#000" stroke-width="4.4" stroke-linecap="butt" />
<text x="199.50" y="858.80" font-size="29.5" text-anchor="end" stroke="#000" stroke-width="0.35">1.00</text>
<line x1="204.50" y1="913.30" x2="220.07" y2="913.30" stroke="#000" stroke-width="4.4" stroke-linecap="butt" />
<text x="199.50" y="923.30" font-size="29.5" text-anchor="end" stroke="#000" stroke-width="0.35">0.75</text>
<line x1="204.50" y1="977.80" x2="220.07" y2="977.80" stroke="#000" stroke-width="4.4" stroke-linecap="butt" />
<text x="199.50" y="987.80" font-size="29.5" text-anchor="end" stroke="#000" stroke-width="0.35">0.50</text>
<line x1="204.50" y1="1042.30" x2="220.07" y2="1042.30" stroke="#000" stroke-width="4.4" stroke-linecap="butt" />
<text x="199.50" y="1052.30" font-size="29.5" text-anchor="end" stroke="#000" stroke-width="0.35">0.25</text>
<text x="199.50" y="1114.80" font-size="29.5" text-anchor="end" stroke="#000" stroke-width="0.35">0.00</text>
<line x1="294.00" y1="1104.80" x2="294.00" y2="1119.80" stroke="#000" stroke-width="4.4" stroke-linecap="butt" />
<text x="294.00" y="1152.60" font-size="29.5" text-anchor="middle" stroke="#000" stroke-width="0.35">25</text>
<line x1="404.40" y1="1104.80" x2="404.40" y2="1119.80" stroke="#000" stroke-width="4.4" stroke-linecap="butt" />
<text x="404.40" y="1152.60" font-size="29.5" text-anchor="middle" stroke="#000" stroke-width="0.35">29</text>
<line x1="515.30" y1="1104.80" x2="515.30" y2="1119.80" stroke="#000" stroke-width="4.4" stroke-linecap="butt" />
<text x="515.30" y="1152.60" font-size="29.5" text-anchor="middle" stroke="#000" stroke-width="0.35">33</text>
<line x1="627.10" y1="1104.80" x2="627.10" y2="1119.80" stroke="#000" stroke-width="4.4" stroke-linecap="butt" />
<text x="627.10" y="1152.60" font-size="29.5" text-anchor="middle" stroke="#000" stroke-width="0.35">37</text>
<text x="459.50" y="1212.60" font-size="30" text-anchor="middle" stroke="#000" stroke-width="0.35">Temperature (°C)</text>
<text transform="translate(108.00 951.00) rotate(-90)" x="0" y="0" font-size="29.5" text-anchor="middle" stroke="#000" stroke-width="0.35">Relative swimming motility</text>
<circle cx="265.4" cy="848.3" r="5.4" fill="#7cc5ee"/><circle cx="278" cy="861.7" r="5.4" fill="#7cc5ee"/><circle cx="310.4" cy="864" r="5.4" fill="#7cc5ee"/><circle cx="309" cy="848.8" r="5.4" fill="#7cc5ee"/><circle cx="281" cy="849" r="5.4" fill="#7cc5ee"/><circle cx="294" cy="858" r="5.4" fill="#7cc5ee"/><circle cx="405.5" cy="806.7" r="5.4" fill="#7cc5ee"/><circle cx="405.5" cy="830.2" r="5.4" fill="#7cc5ee"/><circle cx="388.6" cy="839.7" r="5.4" fill="#7cc5ee"/><circle cx="405.5" cy="848.8" r="5.4" fill="#7cc5ee"/><circle cx="429.3" cy="849.4" r="5.4" fill="#7cc5ee"/><circle cx="388.6" cy="872.3" r="5.4" fill="#7cc5ee"/><circle cx="516.2" cy="821" r="5.4" fill="#7cc5ee"/><circle cx="491.5" cy="849.4" r="5.4" fill="#7cc5ee"/><circle cx="508.2" cy="849.4" r="5.4" fill="#7cc5ee"/><circle cx="524" cy="849.4" r="5.4" fill="#7cc5ee"/><circle cx="540.5" cy="849.4" r="5.4" fill="#7cc5ee"/><circle cx="516.2" cy="874.6" r="5.4" fill="#7cc5ee"/><circle cx="627.1" cy="870.9" r="5.4" fill="#7cc5ee"/><circle cx="651.5" cy="880.4" r="5.4" fill="#7cc5ee"/><circle cx="602.7" cy="886.1" r="5.4" fill="#7cc5ee"/><circle cx="618.5" cy="893.3" r="5.4" fill="#7cc5ee"/><circle cx="635.1" cy="891.8" r="5.4" fill="#7cc5ee"/><circle cx="627.1" cy="909.6" r="5.4" fill="#7cc5ee"/><circle cx="286" cy="789.2" r="5.4" fill="#e9a93a"/><circle cx="302.3" cy="804.4" r="5.4" fill="#e9a93a"/><circle cx="302.3" cy="830.8" r="5.4" fill="#e9a93a"/><circle cx="286" cy="832.5" r="5.4" fill="#e9a93a"/><circle cx="323.3" cy="833.6" r="5.4" fill="#e9a93a"/><circle cx="294" cy="873.8" r="5.4" fill="#e9a93a"/><circle cx="421.3" cy="863.2" r="5.4" fill="#e9a93a"/><circle cx="405" cy="879" r="5.4" fill="#e9a93a"/><circle cx="429.3" cy="892.4" r="5.4" fill="#e9a93a"/><circle cx="380.6" cy="903.9" r="5.4" fill="#e9a93a"/><circle cx="413.6" cy="903.9" r="5.4" fill="#e9a93a"/><circle cx="397.2" cy="907.6" r="5.4" fill="#e9a93a"/><circle cx="545.4" cy="1026" r="5.4" fill="#e9a93a"/><circle cx="487.2" cy="1032.3" r="5.4" fill="#e9a93a"/><circle cx="530.2" cy="1033.7" r="5.4" fill="#e9a93a"/><circle cx="501" cy="1039.5" r="5.4" fill="#e9a93a"/><circle cx="515.3" cy="1039.5" r="5.4" fill="#e9a93a"/><circle cx="516.2" cy="1071.6" r="5.4" fill="#e9a93a"/><circle cx="602.7" cy="1104.8" r="5.4" fill="#e9a93a"/><circle cx="619" cy="1104.8" r="5.4" fill="#e9a93a"/><circle cx="635.1" cy="1104.8" r="5.4" fill="#e9a93a"/><circle cx="651.5" cy="1096.8" r="5.4" fill="#e9a93a"/>
<path d="M257.3 827.3H330.7M294.0 798.1V856.5M276.0 798.1H312.0M276.0 856.5H312.0" stroke="#000" stroke-width="4.5" fill="none"/>
<path d="M257.3 853.7H330.7M294.0 846.8V860.6M276.0 846.8H312.0M276.0 860.6H312.0" stroke="#000" stroke-width="4.5" fill="none"/>
<path d="M367.7 840.8H441.1M404.4 818.7V863.2M386.4 818.7H422.4M386.4 863.2H422.4" stroke="#000" stroke-width="4.5" fill="none"/>
<path d="M367.7 891.8H441.1M404.4 873.8V909.0M386.4 873.8H422.4M386.4 909.0H422.4" stroke="#000" stroke-width="4.5" fill="none"/>
<path d="M478.6 848.8H552.0M515.3 831.6V865.5M497.3 831.6H533.3M497.3 865.5H533.3" stroke="#000" stroke-width="4.5" fill="none"/>
<path d="M478.6 1040.3H552.0M515.3 1024.5V1056.1M497.3 1024.5H533.3M497.3 1056.1H533.3" stroke="#000" stroke-width="4.5" fill="none"/>
<path d="M590.4 888.1H663.8M627.1 876.0V901.0M609.1 876.0H645.1M609.1 901.0H645.1" stroke="#000" stroke-width="4.5" fill="none"/>
</g>
<g id="panelE">
<text x="783.00" y="592.00" font-size="46" font-weight="bold" textLength="24.50" lengthAdjust="spacingAndGlyphs" stroke="#000" stroke-width="0.35">e</text>
<rect x="934.4" y="889.7" width="41" height="26.9" fill="#a8d5f5" stroke="#000" stroke-width="2.4"/>
<rect x="989.6" y="891.8" width="41" height="24.8" fill="#ecae7c" stroke="#000" stroke-width="2.4"/>
<rect x="1066.8" y="880.8" width="41" height="35.8" fill="#a8d5f5" stroke="#000" stroke-width="2.4"/>
<rect x="1122.0" y="737.0" width="41" height="179.6" fill="#ecae7c" stroke="#000" stroke-width="2.4"/>
<rect x="1387.0" y="794.0" width="41" height="122.6" fill="#ecae7c" stroke="#000" stroke-width="2.4"/>
<rect x="1464.2" y="904.1" width="41" height="12.5" fill="#a8d5f5" stroke="#000" stroke-width="2.4"/>
<rect x="1519.4" y="898.7" width="41" height="17.9" fill="#ecae7c" stroke="#000" stroke-width="2.4"/>
<rect x="1596.6" y="894.8" width="41" height="21.8" fill="#a8d5f5" stroke="#000" stroke-width="2.4"/>
<rect x="1651.8" y="727.0" width="41" height="189.6" fill="#ecae7c" stroke="#000" stroke-width="2.4"/>
<rect x="1916.8" y="847.0" width="41" height="69.6" fill="#ecae7c" stroke="#000" stroke-width="2.4"/>
<path d="M1142.5 716.0V759.0M1132.5 716.0h20M1132.5 759.0h20" stroke="#000" stroke-width="4.4" fill="none"/>
<path d="M1672.0 676.4V762.0M1667.0 676.4h10M1667.0 762.0h10" stroke="#000" stroke-width="4.4" fill="none"/>
<path d="M1539.9 884.0V906.0M1531.9 884.0h16M1531.9 906.0h16" stroke="#000" stroke-width="4" fill="none"/>
<rect x="925" y="813.4" width="1062" height="13.6" fill="#fff"/>
<line x1="911.00" y1="594.10" x2="911.00" y2="813.40" stroke="#000" stroke-width="4.6" stroke-linecap="butt" />
<line x1="911.00" y1="827.00" x2="911.00" y2="918.90" stroke="#000" stroke-width="4.6" stroke-linecap="butt" />
<line x1="896.00" y1="916.60" x2="1984.40" y2="916.60" stroke="#000" stroke-width="4.6" stroke-linecap="butt" />
<line x1="897.00" y1="813.40" x2="924.40" y2="813.40" stroke="#000" stroke-width="4.6" stroke-linecap="butt" />
<line x1="897.00" y1="827.00" x2="924.40" y2="827.00" stroke="#000" stroke-width="4.6" stroke-linecap="butt" />
<line x1="896.00" y1="595.84" x2="911.00" y2="595.84" stroke="#000" stroke-width="4.6" stroke-linecap="butt" />
<text x="889.00" y="601.24" font-size="30" text-anchor="end" stroke="#000" stroke-width="0.35">25</text>
<line x1="896.00" y1="645.24" x2="911.00" y2="645.24" stroke="#000" stroke-width="4.6" stroke-linecap="butt" />
<text x="889.00" y="650.64" font-size="30" text-anchor="end" stroke="#000" stroke-width="0.35">20</text>
<line x1="896.00" y1="694.64" x2="911.00" y2="694.64" stroke="#000" stroke-width="4.6" stroke-linecap="butt" />
<text x="889.00" y="700.04" font-size="30" text-anchor="end" stroke="#000" stroke-width="0.35">15</text>
<line x1="896.00" y1="744.04" x2="911.00" y2="744.04" stroke="#000" stroke-width="4.6" stroke-linecap="butt" />
<text x="889.00" y="749.44" font-size="30" text-anchor="end" stroke="#000" stroke-width="0.35">10</text>
<line x1="896.00" y1="793.44" x2="911.00" y2="793.44" stroke="#000" stroke-width="4.6" stroke-linecap="butt" />
<text x="889.00" y="798.84" font-size="30" text-anchor="end" stroke="#000" stroke-width="0.35">5</text>
<line x1="896.00" y1="856.87" x2="911.00" y2="856.87" stroke="#000" stroke-width="4.6" stroke-linecap="butt" />
<text x="889.00" y="862.27" font-size="30" text-anchor="end" stroke="#000" stroke-width="0.35">2</text>
<line x1="896.00" y1="886.73" x2="911.00" y2="886.73" stroke="#000" stroke-width="4.6" stroke-linecap="butt" />
<text x="889.00" y="892.13" font-size="30" text-anchor="end" stroke="#000" stroke-width="0.35">1</text>
<text x="889.00" y="922.00" font-size="30" text-anchor="end" stroke="#000" stroke-width="0.35">0</text>
<text x="889.00" y="829.00" font-size="30" text-anchor="end" stroke="#000" stroke-width="0.35">3</text>
<line x1="981.60" y1="916.60" x2="981.60" y2="932.00" stroke="#000" stroke-width="4.6" stroke-linecap="butt" />
<line x1="1114.05" y1="916.60" x2="1114.05" y2="932.00" stroke="#000" stroke-width="4.6" stroke-linecap="butt" />
<line x1="1246.50" y1="916.60" x2="1246.50" y2="932.00" stroke="#000" stroke-width="4.6" stroke-linecap="butt" />
<line x1="1378.95" y1="916.60" x2="1378.95" y2="932.00" stroke="#000" stroke-width="4.6" stroke-linecap="butt" />
<line x1="1511.40" y1="916.60" x2="1511.40" y2="932.00" stroke="#000" stroke-width="4.6" stroke-linecap="butt" />
<line x1="1643.85" y1="916.60" x2="1643.85" y2="932.00" stroke="#000" stroke-width="4.6" stroke-linecap="butt" />
<line x1="1776.30" y1="916.60" x2="1776.30" y2="932.00" stroke="#000" stroke-width="4.6" stroke-linecap="butt" />
<line x1="1908.75" y1="916.60" x2="1908.75" y2="932.00" stroke="#000" stroke-width="4.6" stroke-linecap="butt" />
<text transform="translate(832.00 757.50) rotate(-90)" x="0" y="0" font-size="30" text-anchor="middle" stroke="#000" stroke-width="0.35">Biofilm (OD<tspan font-size="21.0" dy="7.2" dx="0">595nm</tspan><tspan dy="-7.2" dx="0" font-size="0.30">&#8203;</tspan>)</text>
<rect x="942.2" y="597.2" width="55.6" height="9.4" fill="#a8d5f5" stroke="#000" stroke-width="2.4"/>
<rect x="942.2" y="649.4" width="55.6" height="9.4" fill="#ecae7c" stroke="#000" stroke-width="2.4"/>
<text x="1030.00" y="612.50" font-size="30" textLength="74.00" lengthAdjust="spacingAndGlyphs" stroke="#000" stroke-width="0.35">25 °C</text>
<text x="1030.00" y="664.00" font-size="30" textLength="74.00" lengthAdjust="spacingAndGlyphs" stroke="#000" stroke-width="0.35">37 °C</text>
<g stroke="#000" stroke-width="2.2" fill="#e4e4e4" fill-opacity="0.5"><circle cx="957.4" cy="885.3" r="4.6"/><circle cx="956.0" cy="897.5" r="4.6"/><circle cx="952.6" cy="894.3" r="4.6"/><circle cx="958.3" cy="893.6" r="4.6"/><circle cx="950.3" cy="891.7" r="4.6"/><circle cx="960.6" cy="890.9" r="4.6"/><circle cx="948.0" cy="889.6" r="4.6"/><circle cx="962.9" cy="887.1" r="4.6"/><circle cx="945.8" cy="886.1" r="4.6"/><circle cx="965.2" cy="885.0" r="4.6"/><circle cx="943.5" cy="884.9" r="4.6"/><circle cx="967.5" cy="883.3" r="4.6"/><circle cx="941.2" cy="880.8" r="4.6"/><circle cx="969.8" cy="880.9" r="4.6"/><circle cx="938.9" cy="878.3" r="4.6"/><circle cx="993.9" cy="878.2" r="4.6"/><circle cx="1004.4" cy="879.8" r="4.6"/><circle cx="1016.0" cy="879.1" r="4.6"/><circle cx="1020.0" cy="879.7" r="4.6"/><circle cx="1026.4" cy="879.6" r="4.6"/><circle cx="1002.1" cy="883.1" r="4.6"/><circle cx="1006.8" cy="883.3" r="4.6"/><circle cx="1011.9" cy="883.9" r="4.6"/><circle cx="1017.6" cy="884.1" r="4.6"/><circle cx="1004.6" cy="888.2" r="4.6"/><circle cx="1016.1" cy="887.4" r="4.6"/><circle cx="1011.3" cy="900.2" r="4.6"/><circle cx="1007.8" cy="900.1" r="4.6"/><circle cx="1013.6" cy="897.7" r="4.6"/><circle cx="1005.4" cy="896.7" r="4.6"/><circle cx="1015.9" cy="894.1" r="4.6"/><circle cx="1003.1" cy="892.8" r="4.6"/><circle cx="1018.3" cy="891.7" r="4.6"/><circle cx="1000.8" cy="891.9" r="4.6"/><circle cx="1020.6" cy="889.0" r="4.6"/><circle cx="998.4" cy="888.8" r="4.6"/><circle cx="1022.9" cy="887.8" r="4.6"/><circle cx="996.1" cy="886.5" r="4.6"/><circle cx="1025.3" cy="884.0" r="4.6"/><circle cx="993.8" cy="882.8" r="4.6"/><circle cx="1027.6" cy="881.8" r="4.6"/><circle cx="991.4" cy="881.1" r="4.6"/><circle cx="1029.9" cy="878.5" r="4.6"/><circle cx="989.1" cy="878.5" r="4.6"/><circle cx="1077.5" cy="868.3" r="4.6"/><circle cx="1081.5" cy="868.7" r="4.6"/><circle cx="1088.0" cy="868.7" r="4.6"/><circle cx="1092.6" cy="868.7" r="4.6"/><circle cx="1097.2" cy="868.3" r="4.6"/><circle cx="1079.9" cy="874.4" r="4.6"/><circle cx="1084.0" cy="874.4" r="4.6"/><circle cx="1089.8" cy="873.2" r="4.6"/><circle cx="1095.7" cy="873.5" r="4.6"/><circle cx="1081.4" cy="878.9" r="4.6"/><circle cx="1087.3" cy="878.7" r="4.6"/><circle cx="1092.9" cy="878.9" r="4.6"/><circle cx="1085.2" cy="882.2" r="4.6"/><circle cx="1089.4" cy="883.4" r="4.6"/><circle cx="1087.3" cy="888.2" r="4.6"/><circle cx="1088.3" cy="896.8" r="4.6"/><circle cx="1085.5" cy="895.5" r="4.6"/><circle cx="1090.1" cy="892.9" r="4.6"/><circle cx="1083.7" cy="891.5" r="4.6"/><circle cx="1091.9" cy="890.6" r="4.6"/><circle cx="1081.9" cy="888.6" r="4.6"/><circle cx="1093.7" cy="886.9" r="4.6"/><circle cx="1080.1" cy="885.7" r="4.6"/><circle cx="1095.5" cy="883.9" r="4.6"/><circle cx="1078.3" cy="883.0" r="4.6"/><circle cx="1097.3" cy="882.9" r="4.6"/><circle cx="1076.4" cy="881.5" r="4.6"/><circle cx="1099.2" cy="879.6" r="4.6"/><circle cx="1074.6" cy="878.0" r="4.6"/><circle cx="1101.0" cy="876.4" r="4.6"/><circle cx="1072.8" cy="874.7" r="4.6"/><circle cx="1102.8" cy="873.8" r="4.6"/><circle cx="1071.0" cy="873.5" r="4.6"/><circle cx="1104.6" cy="872.4" r="4.6"/><circle cx="1069.2" cy="870.2" r="4.6"/><circle cx="1106.4" cy="869.8" r="4.6"/><circle cx="1067.3" cy="868.5" r="4.6"/><circle cx="1134.7" cy="726.1" r="4.6"/><circle cx="1138.6" cy="727.5" r="4.6"/><circle cx="1146.3" cy="714.6" r="4.6"/><circle cx="1127.9" cy="733.1" r="4.6"/><circle cx="1135.3" cy="718.6" r="4.6"/><circle cx="1157.4" cy="724.3" r="4.6"/><circle cx="1152.6" cy="724.4" r="4.6"/><circle cx="1146.7" cy="716.6" r="4.6"/><circle cx="1146.6" cy="733.8" r="4.6"/><circle cx="1143.2" cy="730.8" r="4.6"/><circle cx="1147.7" cy="714.5" r="4.6"/><circle cx="1150.3" cy="727.2" r="4.6"/><circle cx="1136.6" cy="713.7" r="4.6"/><circle cx="1153.5" cy="724.3" r="4.6"/><circle cx="1129.0" cy="713.0" r="4.6"/><circle cx="1135.0" cy="710.0" r="4.6"/><circle cx="1146.0" cy="715.0" r="4.6"/><circle cx="1151.0" cy="710.0" r="4.6"/><circle cx="1158.0" cy="713.0" r="4.6"/><circle cx="1127.0" cy="725.0" r="4.6"/><circle cx="1133.0" cy="723.0" r="4.6"/><circle cx="1141.0" cy="722.0" r="4.6"/><circle cx="1150.0" cy="724.0" r="4.6"/><circle cx="1158.0" cy="726.0" r="4.6"/><circle cx="1127.0" cy="735.0" r="4.6"/><circle cx="1135.0" cy="733.0" r="4.6"/><circle cx="1141.0" cy="732.0" r="4.6"/><circle cx="1152.0" cy="731.0" r="4.6"/><circle cx="1159.0" cy="736.0" r="4.6"/><circle cx="1135.0" cy="743.0" r="4.6"/><circle cx="1150.0" cy="743.0" r="4.6"/><circle cx="1142.4" cy="749.0" r="4.6"/><circle cx="1126.0" cy="757.0" r="4.6"/><circle cx="1134.4" cy="767.0" r="4.6"/><circle cx="1151.0" cy="766.0" r="4.6"/><circle cx="1159.0" cy="766.0" r="4.6"/><circle cx="1132.0" cy="780.0" r="4.6"/><circle cx="1139.6" cy="783.6" r="4.6"/><circle cx="1147.4" cy="781.0" r="4.6"/><circle cx="1154.0" cy="778.0" r="4.6"/><circle cx="1204.2" cy="916.1" r="4.6"/><circle cx="1208.3" cy="915.9" r="4.6"/><circle cx="1212.2" cy="915.8" r="4.6"/><circle cx="1215.8" cy="916.2" r="4.6"/><circle cx="1220.2" cy="915.8" r="4.6"/><circle cx="1224.7" cy="916.1" r="4.6"/><circle cx="1228.0" cy="915.6" r="4.6"/><circle cx="1231.9" cy="915.8" r="4.6"/><circle cx="1236.1" cy="916.0" r="4.6"/><circle cx="1259.6" cy="916.1" r="4.6"/><circle cx="1263.6" cy="915.9" r="4.6"/><circle cx="1267.3" cy="916.2" r="4.6"/><circle cx="1271.7" cy="915.9" r="4.6"/><circle cx="1275.7" cy="916.3" r="4.6"/><circle cx="1279.4" cy="916.4" r="4.6"/><circle cx="1283.9" cy="916.0" r="4.6"/><circle cx="1287.1" cy="915.7" r="4.6"/><circle cx="1291.7" cy="916.3" r="4.6"/><circle cx="1336.2" cy="916.2" r="4.6"/><circle cx="1340.7" cy="916.2" r="4.6"/><circle cx="1343.6" cy="916.2" r="4.6"/><circle cx="1348.4" cy="916.1" r="4.6"/><circle cx="1352.1" cy="916.1" r="4.6"/><circle cx="1356.8" cy="916.1" r="4.6"/><circle cx="1360.7" cy="915.6" r="4.6"/><circle cx="1363.6" cy="916.0" r="4.6"/><circle cx="1368.6" cy="915.8" r="4.6"/><circle cx="1402.5" cy="777.8" r="4.6"/><circle cx="1407.0" cy="777.8" r="4.6"/><circle cx="1412.4" cy="778.0" r="4.6"/><circle cx="1404.1" cy="783.0" r="4.6"/><circle cx="1410.2" cy="783.2" r="4.6"/><circle cx="1408.1" cy="786.9" r="4.6"/><circle cx="1408.4" cy="802.5" r="4.6"/><circle cx="1405.6" cy="800.3" r="4.6"/><circle cx="1410.3" cy="798.7" r="4.6"/><circle cx="1403.7" cy="796.3" r="4.6"/><circle cx="1412.1" cy="796.0" r="4.6"/><circle cx="1401.8" cy="793.4" r="4.6"/><circle cx="1414.0" cy="791.0" r="4.6"/><circle cx="1400.0" cy="790.5" r="4.6"/><circle cx="1415.9" cy="787.8" r="4.6"/><circle cx="1398.1" cy="787.1" r="4.6"/><circle cx="1417.8" cy="785.1" r="4.6"/><circle cx="1396.2" cy="783.9" r="4.6"/><circle cx="1419.6" cy="783.1" r="4.6"/><circle cx="1394.3" cy="781.3" r="4.6"/><circle cx="1421.5" cy="778.9" r="4.6"/><circle cx="1392.5" cy="778.1" r="4.6"/><circle cx="1485.9" cy="908.2" r="4.6"/><circle cx="1482.3" cy="906.7" r="4.6"/><circle cx="1488.3" cy="905.4" r="4.6"/><circle cx="1479.8" cy="905.5" r="4.6"/><circle cx="1490.8" cy="904.6" r="4.6"/><circle cx="1477.4" cy="904.6" r="4.6"/><circle cx="1493.2" cy="903.8" r="4.6"/><circle cx="1475.0" cy="902.3" r="4.6"/><circle cx="1495.6" cy="901.0" r="4.6"/><circle cx="1472.6" cy="901.3" r="4.6"/><circle cx="1498.1" cy="898.7" r="4.6"/><circle cx="1470.1" cy="898.2" r="4.6"/><circle cx="1500.5" cy="898.4" r="4.6"/><circle cx="1467.7" cy="897.7" r="4.6"/><circle cx="1529.7" cy="894.6" r="4.6"/><circle cx="1534.6" cy="893.6" r="4.6"/><circle cx="1540.7" cy="893.8" r="4.6"/><circle cx="1545.8" cy="894.2" r="4.6"/><circle cx="1551.1" cy="894.0" r="4.6"/><circle cx="1537.0" cy="899.4" r="4.6"/><circle cx="1542.2" cy="898.6" r="4.6"/><circle cx="1547.9" cy="898.5" r="4.6"/><circle cx="1540.4" cy="903.7" r="4.6"/><circle cx="1541.2" cy="906.7" r="4.6"/><circle cx="1537.4" cy="906.6" r="4.6"/><circle cx="1543.7" cy="905.0" r="4.6"/><circle cx="1534.9" cy="905.3" r="4.6"/><circle cx="1546.2" cy="903.9" r="4.6"/><circle cx="1532.4" cy="901.9" r="4.6"/><circle cx="1548.7" cy="900.9" r="4.6"/><circle cx="1529.9" cy="899.7" r="4.6"/><circle cx="1551.2" cy="900.4" r="4.6"/><circle cx="1527.4" cy="898.1" r="4.6"/><circle cx="1553.7" cy="897.8" r="4.6"/><circle cx="1524.9" cy="896.6" r="4.6"/><circle cx="1556.2" cy="896.0" r="4.6"/><circle cx="1522.4" cy="895.0" r="4.6"/><circle cx="1558.7" cy="894.4" r="4.6"/><circle cx="1519.9" cy="892.2" r="4.6"/><circle cx="1549.8" cy="877.6" r="4.6"/><circle cx="1541.2" cy="878.8" r="4.6"/><circle cx="1532.2" cy="885.0" r="4.6"/><circle cx="1538.5" cy="879.6" r="4.6"/><circle cx="1549.2" cy="886.9" r="4.6"/><circle cx="1522.3" cy="876.1" r="4.6"/><circle cx="1538.2" cy="897.3" r="4.6"/><circle cx="1554.6" cy="885.5" r="4.6"/><circle cx="1521.5" cy="892.9" r="4.6"/><circle cx="1537.2" cy="886.4" r="4.6"/><circle cx="1547.8" cy="888.2" r="4.6"/><circle cx="1539.2" cy="897.2" r="4.6"/><circle cx="1535.5" cy="880.5" r="4.6"/><circle cx="1553.3" cy="874.3" r="4.6"/><circle cx="1532.2" cy="894.6" r="4.6"/><circle cx="1523.4" cy="894.8" r="4.6"/><circle cx="1547.3" cy="881.9" r="4.6"/><circle cx="1531.8" cy="893.0" r="4.6"/><circle cx="1555.5" cy="872.6" r="4.6"/><circle cx="1539.1" cy="885.6" r="4.6"/><circle cx="1539.8" cy="878.6" r="4.6"/><circle cx="1526.7" cy="886.7" r="4.6"/><circle cx="1551.7" cy="870.2" r="4.6"/><circle cx="1529.6" cy="894.2" r="4.6"/><circle cx="1551.0" cy="889.2" r="4.6"/><circle cx="1521.9" cy="891.1" r="4.6"/><circle cx="1558.1" cy="899.9" r="4.6"/><circle cx="1547.5" cy="869.6" r="4.6"/><circle cx="1552.9" cy="875.0" r="4.6"/><circle cx="1545.4" cy="898.5" r="4.6"/><circle cx="1548.0" cy="872.3" r="4.6"/><circle cx="1532.0" cy="897.4" r="4.6"/><circle cx="1526.6" cy="887.5" r="4.6"/><circle cx="1536.6" cy="873.2" r="4.6"/><circle cx="1525.9" cy="857.0" r="4.6"/><circle cx="1532.9" cy="860.0" r="4.6"/><circle cx="1546.9" cy="861.0" r="4.6"/><circle cx="1554.9" cy="858.0" r="4.6"/><circle cx="1539.9" cy="830.6" r="4.6"/><circle cx="1611.3" cy="885.3" r="4.6"/><circle cx="1616.4" cy="885.6" r="4.6"/><circle cx="1614.4" cy="889.8" r="4.6"/><circle cx="1617.9" cy="894.5" r="4.6"/><circle cx="1618.3" cy="902.2" r="4.6"/><circle cx="1614.8" cy="901.8" r="4.6"/><circle cx="1620.7" cy="899.2" r="4.6"/><circle cx="1612.4" cy="898.6" r="4.6"/><circle cx="1623.0" cy="896.9" r="4.6"/><circle cx="1610.1" cy="896.3" r="4.6"/><circle cx="1625.4" cy="894.1" r="4.6"/><circle cx="1607.7" cy="892.9" r="4.6"/><circle cx="1627.8" cy="890.8" r="4.6"/><circle cx="1605.4" cy="890.0" r="4.6"/><circle cx="1630.1" cy="888.0" r="4.6"/><circle cx="1603.0" cy="887.7" r="4.6"/><circle cx="1632.5" cy="885.9" r="4.6"/><circle cx="1600.6" cy="883.8" r="4.6"/><circle cx="1680.3" cy="621.2" r="4.6"/><circle cx="1663.8" cy="633.8" r="4.6"/><circle cx="1663.8" cy="655.0" r="4.6"/><circle cx="1680.3" cy="664.7" r="4.6"/><circle cx="1657.4" cy="669.3" r="4.6"/><circle cx="1686.8" cy="673.3" r="4.6"/><circle cx="1665.0" cy="677.0" r="4.6"/><circle cx="1679.7" cy="681.9" r="4.6"/><circle cx="1672.0" cy="684.6" r="4.6"/><circle cx="1663.8" cy="693.8" r="4.6"/><circle cx="1688.3" cy="707.6" r="4.6"/><circle cx="1679.7" cy="713.0" r="4.6"/><circle cx="1663.8" cy="718.3" r="4.6"/><circle cx="1658.3" cy="720.8" r="4.6"/><circle cx="1686.8" cy="719.2" r="4.6"/><circle cx="1679.7" cy="721.4" r="4.6"/><circle cx="1669.0" cy="729.0" r="4.6"/><circle cx="1685.8" cy="755.0" r="4.6"/><circle cx="1651.5" cy="758.4" r="4.6"/><circle cx="1672.0" cy="763.0" r="4.6"/><circle cx="1659.8" cy="769.7" r="4.6"/><circle cx="1684.3" cy="769.7" r="4.6"/><circle cx="1662.9" cy="774.3" r="4.6"/><circle cx="1682.2" cy="774.3" r="4.6"/><circle cx="1667.5" cy="779.9" r="4.6"/><circle cx="1677.3" cy="779.9" r="4.6"/><circle cx="1672.0" cy="785.0" r="4.6"/><circle cx="1656.0" cy="766.0" r="4.6"/><circle cx="1688.0" cy="766.0" r="4.6"/><circle cx="1672.0" cy="775.0" r="4.6"/><circle cx="1665.0" cy="772.0" r="4.6"/><circle cx="1679.0" cy="772.0" r="4.6"/><circle cx="1668.0" cy="778.0" r="4.6"/><circle cx="1676.0" cy="778.0" r="4.6"/><circle cx="1661.0" cy="768.0" r="4.6"/><circle cx="1683.0" cy="768.0" r="4.6"/><circle cx="1732.1" cy="915.9" r="4.6"/><circle cx="1737.3" cy="915.7" r="4.6"/><circle cx="1741.5" cy="916.1" r="4.6"/><circle cx="1744.5" cy="916.1" r="4.6"/><circle cx="1748.8" cy="915.7" r="4.6"/><circle cx="1754.0" cy="915.8" r="4.6"/><circle cx="1758.9" cy="916.0" r="4.6"/><circle cx="1762.0" cy="916.2" r="4.6"/><circle cx="1765.7" cy="916.2" r="4.6"/><circle cx="1786.9" cy="915.7" r="4.6"/><circle cx="1793.0" cy="916.1" r="4.6"/><circle cx="1795.7" cy="915.7" r="4.6"/><circle cx="1801.5" cy="916.1" r="4.6"/><circle cx="1805.4" cy="915.7" r="4.6"/><circle cx="1809.3" cy="915.9" r="4.6"/><circle cx="1812.8" cy="915.9" r="4.6"/><circle cx="1817.8" cy="915.9" r="4.6"/><circle cx="1821.6" cy="915.7" r="4.6"/><circle cx="1864.7" cy="916.1" r="4.6"/><circle cx="1869.2" cy="915.9" r="4.6"/><circle cx="1873.8" cy="916.0" r="4.6"/><circle cx="1877.7" cy="916.1" r="4.6"/><circle cx="1882.5" cy="915.9" r="4.6"/><circle cx="1885.7" cy="915.6" r="4.6"/><circle cx="1890.5" cy="915.6" r="4.6"/><circle cx="1896.3" cy="916.0" r="4.6"/><circle cx="1900.6" cy="915.6" r="4.6"/><circle cx="1927.5" cy="833.7" r="4.6"/><circle cx="1932.0" cy="832.9" r="4.6"/><circle cx="1936.7" cy="833.3" r="4.6"/><circle cx="1943.1" cy="832.9" r="4.6"/><circle cx="1947.3" cy="833.0" r="4.6"/><circle cx="1929.0" cy="838.1" r="4.6"/><circle cx="1935.3" cy="837.9" r="4.6"/><circle cx="1945.3" cy="838.1" r="4.6"/><circle cx="1937.5" cy="842.4" r="4.6"/><circle cx="1942.8" cy="842.2" r="4.6"/><circle cx="1939.1" cy="846.9" r="4.6"/><circle cx="1938.4" cy="854.3" r="4.6"/><circle cx="1935.0" cy="853.4" r="4.6"/><circle cx="1940.7" cy="853.1" r="4.6"/><circle cx="1932.7" cy="850.4" r="4.6"/><circle cx="1942.9" cy="848.9" r="4.6"/><circle cx="1930.4" cy="847.8" r="4.6"/><circle cx="1945.2" cy="846.1" r="4.6"/><circle cx="1928.1" cy="845.7" r="4.6"/><circle cx="1947.5" cy="844.3" r="4.6"/><circle cx="1925.9" cy="841.9" r="4.6"/><circle cx="1949.8" cy="840.8" r="4.6"/><circle cx="1923.6" cy="840.3" r="4.6"/><circle cx="1952.1" cy="839.6" r="4.6"/><circle cx="1921.3" cy="837.8" r="4.6"/><circle cx="1954.3" cy="836.1" r="4.6"/><circle cx="1919.0" cy="835.9" r="4.6"/><circle cx="1956.6" cy="832.7" r="4.6"/><circle cx="1916.8" cy="831.6" r="4.6"/></g>
<path d="M1141.4 696V667H1409.4V763" fill="none" stroke="#000" stroke-width="4.6"/>
<path d="M1671.6 611V591.6H1936.3V813.5" fill="none" stroke="#000" stroke-width="4.6"/>
<text x="1274.80" y="667.50" font-size="44" text-anchor="middle" stroke="#000" stroke-width="0.35">***</text>
<text x="1805.50" y="593.00" font-size="44" text-anchor="middle" stroke="#000" stroke-width="0.35">***</text>
<text transform="translate(989.60 962.00) rotate(-45)" x="0" y="0" font-size="30" text-anchor="end" stroke="#000" stroke-width="0.35">CF39 (<tspan font-style="italic">tdcA</tspan><tspan font-size="21.0" dy="-12.6" dx="1.5">-</tspan><tspan dy="12.6" dx="1" font-size="0.30">&#8203;</tspan>)</text>
<text transform="translate(1122.05 962.00) rotate(-45)" x="0" y="0" font-size="30" text-anchor="end" stroke="#000" stroke-width="0.35">CF39S (<tspan font-style="italic">tdcA</tspan><tspan font-size="21.0" dy="-12.6" dx="1.5">+</tspan><tspan dy="12.6" dx="1" font-size="0.30">&#8203;</tspan>)</text>
<text transform="translate(1254.50 962.00) rotate(-45)" x="0" y="0" font-size="30" text-anchor="end" stroke="#000" stroke-width="0.35">CF39 (<tspan font-style="italic">tdcA</tspan><tspan font-size="21.0" dy="-12.6" dx="1.5">-</tspan><tspan dy="12.6" dx="1" font-size="0.30">&#8203;</tspan>) Δ<tspan font-style="italic">fleQ</tspan></text>
<text transform="translate(1386.95 962.00) rotate(-45)" x="0" y="0" font-size="30" text-anchor="end" stroke="#000" stroke-width="0.35">CF39S (<tspan font-style="italic">tdcA</tspan><tspan font-size="21.0" dy="-12.6" dx="1.5">+</tspan><tspan dy="12.6" dx="1" font-size="0.30">&#8203;</tspan>) Δ<tspan font-style="italic">fleQ</tspan></text>
<text transform="translate(1519.40 962.00) rotate(-45)" x="0" y="0" font-size="30" text-anchor="end" stroke="#000" stroke-width="0.35">PAO1 + <tspan font-style="italic">P</tspan><tspan font-size="21.6" dy="8.1" dx="3.5">native</tspan><tspan dy="-8.1" dx="1" font-size="0.30">&#8203;</tspan><tspan font-style="italic">::tdcA</tspan><tspan font-size="21.0" dy="-12.6" dx="1.5">-</tspan><tspan dy="12.6" dx="1" font-size="0.30">&#8203;</tspan></text>
<text transform="translate(1651.85 962.00) rotate(-45)" x="0" y="0" font-size="30" text-anchor="end" stroke="#000" stroke-width="0.35">PAO1 + <tspan font-style="italic">P</tspan><tspan font-size="21.6" dy="8.1" dx="3.5">native</tspan><tspan dy="-8.1" dx="1" font-size="0.30">&#8203;</tspan><tspan font-style="italic">::tdcA</tspan><tspan font-size="21.0" dy="-12.6" dx="1.5">+</tspan><tspan dy="12.6" dx="1" font-size="0.30">&#8203;</tspan></text>
<text transform="translate(1784.30 962.00) rotate(-45)" x="0" y="0" font-size="30" text-anchor="end" stroke="#000" stroke-width="0.35">PAO1 Δ<tspan font-style="italic">fleQ</tspan> + <tspan font-style="italic">P</tspan><tspan font-size="21.6" dy="8.1" dx="3.5">native</tspan><tspan dy="-8.1" dx="1" font-size="0.30">&#8203;</tspan><tspan font-style="italic">::tdcA</tspan><tspan font-size="21.0" dy="-12.6" dx="1.5">-</tspan><tspan dy="12.6" dx="1" font-size="0.30">&#8203;</tspan></text>
<text transform="translate(1916.75 962.00) rotate(-45)" x="0" y="0" font-size="30" text-anchor="end" stroke="#000" stroke-width="0.35">PAO1 Δ<tspan font-style="italic">fleQ</tspan> + <tspan font-style="italic">P</tspan><tspan font-size="21.6" dy="8.1" dx="3.5">native</tspan><tspan dy="-8.1" dx="1" font-size="0.30">&#8203;</tspan><tspan font-style="italic">::tdcA</tspan><tspan font-size="21.0" dy="-12.6" dx="1.5">+</tspan><tspan dy="12.6" dx="1" font-size="0.30">&#8203;</tspan></text>
</g>
</svg>
</body></html>
